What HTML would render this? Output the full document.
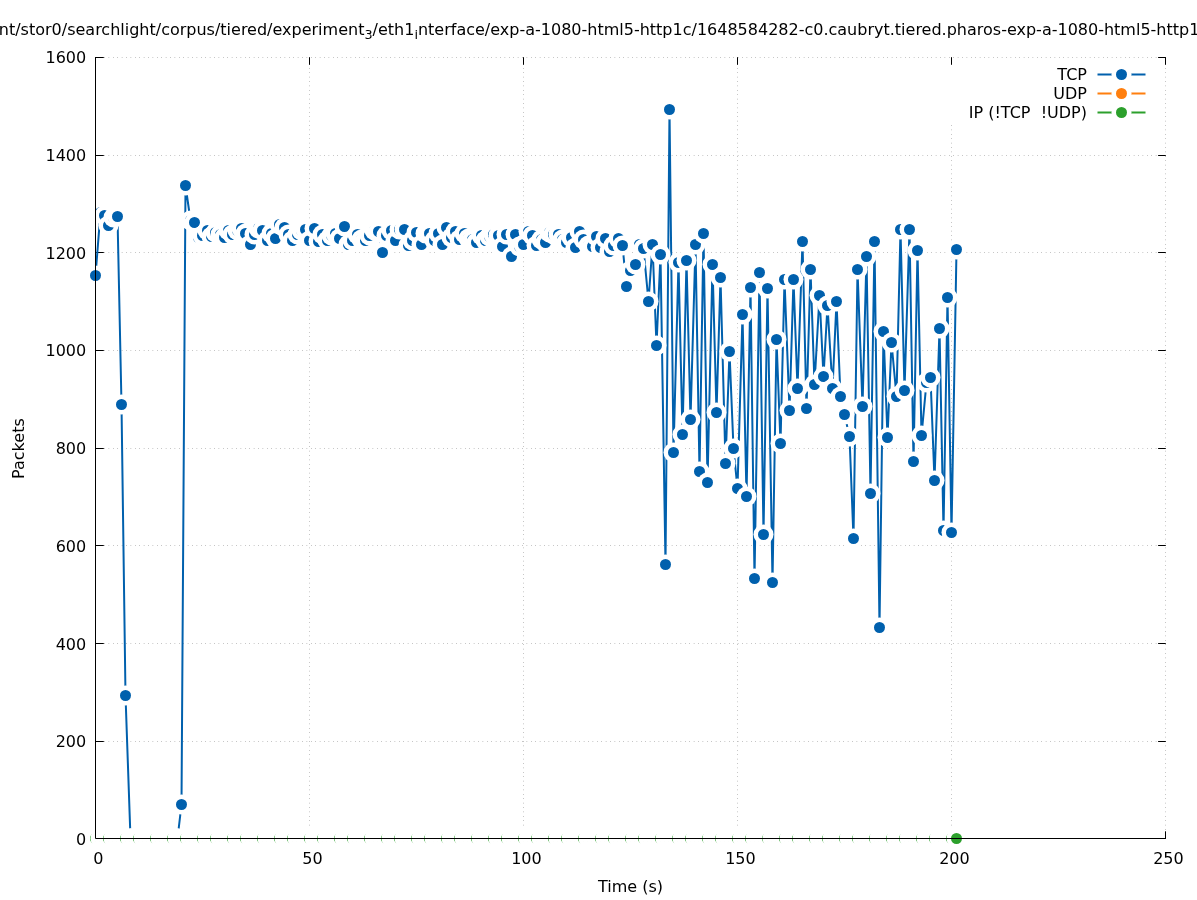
<!DOCTYPE html>
<html lang="en"><head><meta charset="utf-8"><title>Packets over time</title>
<style>html,body{margin:0;padding:0;background:#fff}body{width:1197px;height:900px;overflow:hidden}svg{display:block}</style>
</head><body>
<svg width="1197" height="900" viewBox="0 0 1197 900" font-family="'DejaVu Sans', 'Liberation Sans', sans-serif" font-size="16px" fill="#000">
<rect width="1197" height="900" fill="#fff"/>
<g stroke="#a0a0a0" stroke-width="1" stroke-dasharray="0.6 3.8" fill="none">
<path stroke-dashoffset="0.1" d="M95.5 741.5H1165.5"/>
<path stroke-dashoffset="0.1" d="M95.5 643.5H1165.5"/>
<path stroke-dashoffset="0.1" d="M95.5 545.5H1165.5"/>
<path stroke-dashoffset="0.1" d="M95.5 448.5H1165.5"/>
<path stroke-dashoffset="0.1" d="M95.5 350.5H1165.5"/>
<path stroke-dashoffset="0.1" d="M95.5 252.5H1165.5"/>
<path stroke-dashoffset="0.1" d="M95.5 155.5H1165.5"/>
<path stroke-dashoffset="0.1" d="M95.5 57.5H1165.5"/>
<path stroke-dashoffset="0.1" d="M309.5 838.5V57.5"/>
<path stroke-dashoffset="0.1" d="M523.5 838.5V57.5"/>
<path stroke-dashoffset="0.1" d="M737.5 838.5V57.5"/>
<path stroke-dashoffset="0.1" d="M951.5 838.5V57.5"/>
<path stroke-dashoffset="0.1" d="M1165.5 838.5V57.5"/>
</g>
<rect x="940" y="59" width="220" height="65.5" fill="#fff"/>
<g stroke="#000" stroke-width="1" fill="none">
<path d="M95.5 838.5H103.8"/>
<path d="M1165.8 838.5H1158.1"/>
<path d="M95.5 741.5H103.8"/>
<path d="M1165.8 741.5H1158.1"/>
<path d="M95.5 643.5H103.8"/>
<path d="M1165.8 643.5H1158.1"/>
<path d="M95.5 545.5H103.8"/>
<path d="M1165.8 545.5H1158.1"/>
<path d="M95.5 448.5H103.8"/>
<path d="M1165.8 448.5H1158.1"/>
<path d="M95.5 350.5H103.8"/>
<path d="M1165.8 350.5H1158.1"/>
<path d="M95.5 252.5H103.8"/>
<path d="M1165.8 252.5H1158.1"/>
<path d="M95.5 155.5H103.8"/>
<path d="M1165.8 155.5H1158.1"/>
<path d="M95.5 57.5H103.8"/>
<path d="M1165.8 57.5H1158.1"/>
<path d="M95.5 838.5V831.3"/>
<path d="M95.5 57.2V64.8"/>
<path d="M309.5 838.5V831.3"/>
<path d="M309.5 57.2V64.8"/>
<path d="M523.5 838.5V831.3"/>
<path d="M523.5 57.2V64.8"/>
<path d="M737.5 838.5V831.3"/>
<path d="M737.5 57.2V64.8"/>
<path d="M951.5 838.5V831.3"/>
<path d="M951.5 57.2V64.8"/>
<path d="M1165.5 838.5V831.3"/>
<path d="M1165.5 57.2V64.8"/>
</g>
<g id="tcp">
<polyline fill="none" stroke="#0060ad" stroke-width="2" stroke-linejoin="miter" stroke-linecap="butt" points="95.5,275.5 100.5,212.5 104.5,215.5 108.5,225.5 113.5,217.5 117.5,216.5 121.5,404.5 125.5,695.5 130.5,838.5 134.5,838.5 138.5,838.5 143.5,838.5 147.5,838.5 151.5,838.5 155.5,838.5 160.5,838.5 164.5,838.5 168.5,838.5 172.5,838.5 177.5,838.5 181.5,804.5 185.5,185.5 190.5,220.5 194.5,222.5 198.5,237.5 202.5,235.5 207.5,230.5 211.5,236.5 215.5,232.5 220.5,234.5 224.5,237.5 228.5,230.5 232.5,234.5 237.5,230.5 241.5,228.5 245.5,233.5 250.5,244.5 254.5,234.5 258.5,228.5 262.5,230.5 267.5,240.5 271.5,233.5 275.5,238.5 279.5,224.5 284.5,227.5 288.5,234.5 292.5,240.5 297.5,234.5 301.5,230.5 305.5,229.5 309.5,240.5 314.5,228.5 318.5,241.5 322.5,234.5 327.5,240.5 331.5,235.5 335.5,233.5 339.5,238.5 344.5,226.5 348.5,244.5 352.5,240.5 357.5,234.5 361.5,239.5 365.5,240.5 369.5,235.5 374.5,230.5 378.5,231.5 382.5,252.5 386.5,235.5 391.5,230.5 395.5,240.5 399.5,229.5 404.5,229.5 408.5,245.5 412.5,240.5 416.5,232.5 421.5,244.5 425.5,233.5 429.5,233.5 434.5,240.5 438.5,233.5 442.5,244.5 446.5,227.5 451.5,237.5 455.5,231.5 459.5,239.5 464.5,233.5 468.5,238.5 472.5,239.5 476.5,242.5 481.5,235.5 485.5,240.5 489.5,236.5 493.5,234.5 498.5,235.5 502.5,246.5 506.5,234.5 511.5,256.5 515.5,234.5 519.5,246.5 523.5,244.5 528.5,231.5 532.5,235.5 536.5,245.5 541.5,239.5 545.5,242.5 549.5,232.5 553.5,234.5 558.5,234.5 562.5,239.5 566.5,242.5 571.5,237.5 575.5,247.5 579.5,231.5 583.5,239.5 588.5,245.5 592.5,246.5 596.5,236.5 600.5,247.5 605.5,238.5 609.5,251.5 613.5,245.5 618.5,238.5 622.5,245.5 626.5,286.5 630.5,270.5 635.5,264.5 639.5,244.5 643.5,248.5 648.5,301.5 652.5,244.5 656.5,345.5 660.5,254.5 665.5,564.5 669.5,109.5 673.5,452.5 678.5,262.5 682.5,434.5 686.5,260.5 690.5,419.5 695.5,244.5 699.5,471.5 703.5,233.5 707.5,482.5 712.5,264.5 716.5,412.5 720.5,277.5 725.5,463.5 729.5,351.5 733.5,448.5 737.5,488.5 742.5,314.5 746.5,496.5 750.5,287.5 754.5,578.5 759.5,272.5 763.5,534.5 767.5,288.5 772.5,582.5 776.5,339.5 780.5,443.5 784.5,279.5 789.5,410.5 793.5,279.5 797.5,388.5 802.5,241.5 806.5,408.5 810.5,269.5 814.5,384.5 819.5,295.5 823.5,376.5 827.5,305.5 832.5,388.5 836.5,301.5 840.5,396.5 844.5,414.5 849.5,436.5 853.5,538.5 857.5,269.5 862.5,406.5 866.5,256.5 870.5,493.5 874.5,241.5 879.5,627.5 883.5,331.5 887.5,437.5 891.5,342.5 896.5,396.5 900.5,229.5 904.5,390.5 909.5,229.5 913.5,461.5 917.5,250.5 921.5,435.5 926.5,382.5 930.5,377.5 934.5,480.5 939.5,328.5 943.5,530.5 947.5,297.5 951.5,532.5 956.5,249.5"/>
<circle cx="95.5" cy="275.5" r="10" fill="#fff"/><circle cx="95.5" cy="275.5" r="5.5" fill="#0060ad"/>
<circle cx="100.5" cy="212.5" r="10" fill="#fff"/><circle cx="100.5" cy="212.5" r="5.5" fill="#0060ad"/>
<circle cx="104.5" cy="215.5" r="10" fill="#fff"/><circle cx="104.5" cy="215.5" r="5.5" fill="#0060ad"/>
<circle cx="108.5" cy="225.5" r="10" fill="#fff"/><circle cx="108.5" cy="225.5" r="5.5" fill="#0060ad"/>
<circle cx="113.5" cy="217.5" r="10" fill="#fff"/><circle cx="113.5" cy="217.5" r="5.5" fill="#0060ad"/>
<circle cx="117.5" cy="216.5" r="10" fill="#fff"/><circle cx="117.5" cy="216.5" r="5.5" fill="#0060ad"/>
<circle cx="121.5" cy="404.5" r="10" fill="#fff"/><circle cx="121.5" cy="404.5" r="5.5" fill="#0060ad"/>
<circle cx="125.5" cy="695.5" r="10" fill="#fff"/><circle cx="125.5" cy="695.5" r="5.5" fill="#0060ad"/>
<circle cx="130.5" cy="838.5" r="10" fill="#fff"/><circle cx="130.5" cy="838.5" r="5.5" fill="#0060ad"/>
<circle cx="134.5" cy="838.5" r="10" fill="#fff"/><circle cx="134.5" cy="838.5" r="5.5" fill="#0060ad"/>
<circle cx="138.5" cy="838.5" r="10" fill="#fff"/><circle cx="138.5" cy="838.5" r="5.5" fill="#0060ad"/>
<circle cx="143.5" cy="838.5" r="10" fill="#fff"/><circle cx="143.5" cy="838.5" r="5.5" fill="#0060ad"/>
<circle cx="147.5" cy="838.5" r="10" fill="#fff"/><circle cx="147.5" cy="838.5" r="5.5" fill="#0060ad"/>
<circle cx="151.5" cy="838.5" r="10" fill="#fff"/><circle cx="151.5" cy="838.5" r="5.5" fill="#0060ad"/>
<circle cx="155.5" cy="838.5" r="10" fill="#fff"/><circle cx="155.5" cy="838.5" r="5.5" fill="#0060ad"/>
<circle cx="160.5" cy="838.5" r="10" fill="#fff"/><circle cx="160.5" cy="838.5" r="5.5" fill="#0060ad"/>
<circle cx="164.5" cy="838.5" r="10" fill="#fff"/><circle cx="164.5" cy="838.5" r="5.5" fill="#0060ad"/>
<circle cx="168.5" cy="838.5" r="10" fill="#fff"/><circle cx="168.5" cy="838.5" r="5.5" fill="#0060ad"/>
<circle cx="172.5" cy="838.5" r="10" fill="#fff"/><circle cx="172.5" cy="838.5" r="5.5" fill="#0060ad"/>
<circle cx="177.5" cy="838.5" r="10" fill="#fff"/><circle cx="177.5" cy="838.5" r="5.5" fill="#0060ad"/>
<circle cx="181.5" cy="804.5" r="10" fill="#fff"/><circle cx="181.5" cy="804.5" r="5.5" fill="#0060ad"/>
<circle cx="185.5" cy="185.5" r="10" fill="#fff"/><circle cx="185.5" cy="185.5" r="5.5" fill="#0060ad"/>
<circle cx="190.5" cy="220.5" r="10" fill="#fff"/><circle cx="190.5" cy="220.5" r="5.5" fill="#0060ad"/>
<circle cx="194.5" cy="222.5" r="10" fill="#fff"/><circle cx="194.5" cy="222.5" r="5.5" fill="#0060ad"/>
<circle cx="198.5" cy="237.5" r="10" fill="#fff"/><circle cx="198.5" cy="237.5" r="5.5" fill="#0060ad"/>
<circle cx="202.5" cy="235.5" r="10" fill="#fff"/><circle cx="202.5" cy="235.5" r="5.5" fill="#0060ad"/>
<circle cx="207.5" cy="230.5" r="10" fill="#fff"/><circle cx="207.5" cy="230.5" r="5.5" fill="#0060ad"/>
<circle cx="211.5" cy="236.5" r="10" fill="#fff"/><circle cx="211.5" cy="236.5" r="5.5" fill="#0060ad"/>
<circle cx="215.5" cy="232.5" r="10" fill="#fff"/><circle cx="215.5" cy="232.5" r="5.5" fill="#0060ad"/>
<circle cx="220.5" cy="234.5" r="10" fill="#fff"/><circle cx="220.5" cy="234.5" r="5.5" fill="#0060ad"/>
<circle cx="224.5" cy="237.5" r="10" fill="#fff"/><circle cx="224.5" cy="237.5" r="5.5" fill="#0060ad"/>
<circle cx="228.5" cy="230.5" r="10" fill="#fff"/><circle cx="228.5" cy="230.5" r="5.5" fill="#0060ad"/>
<circle cx="232.5" cy="234.5" r="10" fill="#fff"/><circle cx="232.5" cy="234.5" r="5.5" fill="#0060ad"/>
<circle cx="237.5" cy="230.5" r="10" fill="#fff"/><circle cx="237.5" cy="230.5" r="5.5" fill="#0060ad"/>
<circle cx="241.5" cy="228.5" r="10" fill="#fff"/><circle cx="241.5" cy="228.5" r="5.5" fill="#0060ad"/>
<circle cx="245.5" cy="233.5" r="10" fill="#fff"/><circle cx="245.5" cy="233.5" r="5.5" fill="#0060ad"/>
<circle cx="250.5" cy="244.5" r="10" fill="#fff"/><circle cx="250.5" cy="244.5" r="5.5" fill="#0060ad"/>
<circle cx="254.5" cy="234.5" r="10" fill="#fff"/><circle cx="254.5" cy="234.5" r="5.5" fill="#0060ad"/>
<circle cx="258.5" cy="228.5" r="10" fill="#fff"/><circle cx="258.5" cy="228.5" r="5.5" fill="#0060ad"/>
<circle cx="262.5" cy="230.5" r="10" fill="#fff"/><circle cx="262.5" cy="230.5" r="5.5" fill="#0060ad"/>
<circle cx="267.5" cy="240.5" r="10" fill="#fff"/><circle cx="267.5" cy="240.5" r="5.5" fill="#0060ad"/>
<circle cx="271.5" cy="233.5" r="10" fill="#fff"/><circle cx="271.5" cy="233.5" r="5.5" fill="#0060ad"/>
<circle cx="275.5" cy="238.5" r="10" fill="#fff"/><circle cx="275.5" cy="238.5" r="5.5" fill="#0060ad"/>
<circle cx="279.5" cy="224.5" r="10" fill="#fff"/><circle cx="279.5" cy="224.5" r="5.5" fill="#0060ad"/>
<circle cx="284.5" cy="227.5" r="10" fill="#fff"/><circle cx="284.5" cy="227.5" r="5.5" fill="#0060ad"/>
<circle cx="288.5" cy="234.5" r="10" fill="#fff"/><circle cx="288.5" cy="234.5" r="5.5" fill="#0060ad"/>
<circle cx="292.5" cy="240.5" r="10" fill="#fff"/><circle cx="292.5" cy="240.5" r="5.5" fill="#0060ad"/>
<circle cx="297.5" cy="234.5" r="10" fill="#fff"/><circle cx="297.5" cy="234.5" r="5.5" fill="#0060ad"/>
<circle cx="301.5" cy="230.5" r="10" fill="#fff"/><circle cx="301.5" cy="230.5" r="5.5" fill="#0060ad"/>
<circle cx="305.5" cy="229.5" r="10" fill="#fff"/><circle cx="305.5" cy="229.5" r="5.5" fill="#0060ad"/>
<circle cx="309.5" cy="240.5" r="10" fill="#fff"/><circle cx="309.5" cy="240.5" r="5.5" fill="#0060ad"/>
<circle cx="314.5" cy="228.5" r="10" fill="#fff"/><circle cx="314.5" cy="228.5" r="5.5" fill="#0060ad"/>
<circle cx="318.5" cy="241.5" r="10" fill="#fff"/><circle cx="318.5" cy="241.5" r="5.5" fill="#0060ad"/>
<circle cx="322.5" cy="234.5" r="10" fill="#fff"/><circle cx="322.5" cy="234.5" r="5.5" fill="#0060ad"/>
<circle cx="327.5" cy="240.5" r="10" fill="#fff"/><circle cx="327.5" cy="240.5" r="5.5" fill="#0060ad"/>
<circle cx="331.5" cy="235.5" r="10" fill="#fff"/><circle cx="331.5" cy="235.5" r="5.5" fill="#0060ad"/>
<circle cx="335.5" cy="233.5" r="10" fill="#fff"/><circle cx="335.5" cy="233.5" r="5.5" fill="#0060ad"/>
<circle cx="339.5" cy="238.5" r="10" fill="#fff"/><circle cx="339.5" cy="238.5" r="5.5" fill="#0060ad"/>
<circle cx="344.5" cy="226.5" r="10" fill="#fff"/><circle cx="344.5" cy="226.5" r="5.5" fill="#0060ad"/>
<circle cx="348.5" cy="244.5" r="10" fill="#fff"/><circle cx="348.5" cy="244.5" r="5.5" fill="#0060ad"/>
<circle cx="352.5" cy="240.5" r="10" fill="#fff"/><circle cx="352.5" cy="240.5" r="5.5" fill="#0060ad"/>
<circle cx="357.5" cy="234.5" r="10" fill="#fff"/><circle cx="357.5" cy="234.5" r="5.5" fill="#0060ad"/>
<circle cx="361.5" cy="239.5" r="10" fill="#fff"/><circle cx="361.5" cy="239.5" r="5.5" fill="#0060ad"/>
<circle cx="365.5" cy="240.5" r="10" fill="#fff"/><circle cx="365.5" cy="240.5" r="5.5" fill="#0060ad"/>
<circle cx="369.5" cy="235.5" r="10" fill="#fff"/><circle cx="369.5" cy="235.5" r="5.5" fill="#0060ad"/>
<circle cx="374.5" cy="230.5" r="10" fill="#fff"/><circle cx="374.5" cy="230.5" r="5.5" fill="#0060ad"/>
<circle cx="378.5" cy="231.5" r="10" fill="#fff"/><circle cx="378.5" cy="231.5" r="5.5" fill="#0060ad"/>
<circle cx="382.5" cy="252.5" r="10" fill="#fff"/><circle cx="382.5" cy="252.5" r="5.5" fill="#0060ad"/>
<circle cx="386.5" cy="235.5" r="10" fill="#fff"/><circle cx="386.5" cy="235.5" r="5.5" fill="#0060ad"/>
<circle cx="391.5" cy="230.5" r="10" fill="#fff"/><circle cx="391.5" cy="230.5" r="5.5" fill="#0060ad"/>
<circle cx="395.5" cy="240.5" r="10" fill="#fff"/><circle cx="395.5" cy="240.5" r="5.5" fill="#0060ad"/>
<circle cx="399.5" cy="229.5" r="10" fill="#fff"/><circle cx="399.5" cy="229.5" r="5.5" fill="#0060ad"/>
<circle cx="404.5" cy="229.5" r="10" fill="#fff"/><circle cx="404.5" cy="229.5" r="5.5" fill="#0060ad"/>
<circle cx="408.5" cy="245.5" r="10" fill="#fff"/><circle cx="408.5" cy="245.5" r="5.5" fill="#0060ad"/>
<circle cx="412.5" cy="240.5" r="10" fill="#fff"/><circle cx="412.5" cy="240.5" r="5.5" fill="#0060ad"/>
<circle cx="416.5" cy="232.5" r="10" fill="#fff"/><circle cx="416.5" cy="232.5" r="5.5" fill="#0060ad"/>
<circle cx="421.5" cy="244.5" r="10" fill="#fff"/><circle cx="421.5" cy="244.5" r="5.5" fill="#0060ad"/>
<circle cx="425.5" cy="233.5" r="10" fill="#fff"/><circle cx="425.5" cy="233.5" r="5.5" fill="#0060ad"/>
<circle cx="429.5" cy="233.5" r="10" fill="#fff"/><circle cx="429.5" cy="233.5" r="5.5" fill="#0060ad"/>
<circle cx="434.5" cy="240.5" r="10" fill="#fff"/><circle cx="434.5" cy="240.5" r="5.5" fill="#0060ad"/>
<circle cx="438.5" cy="233.5" r="10" fill="#fff"/><circle cx="438.5" cy="233.5" r="5.5" fill="#0060ad"/>
<circle cx="442.5" cy="244.5" r="10" fill="#fff"/><circle cx="442.5" cy="244.5" r="5.5" fill="#0060ad"/>
<circle cx="446.5" cy="227.5" r="10" fill="#fff"/><circle cx="446.5" cy="227.5" r="5.5" fill="#0060ad"/>
<circle cx="451.5" cy="237.5" r="10" fill="#fff"/><circle cx="451.5" cy="237.5" r="5.5" fill="#0060ad"/>
<circle cx="455.5" cy="231.5" r="10" fill="#fff"/><circle cx="455.5" cy="231.5" r="5.5" fill="#0060ad"/>
<circle cx="459.5" cy="239.5" r="10" fill="#fff"/><circle cx="459.5" cy="239.5" r="5.5" fill="#0060ad"/>
<circle cx="464.5" cy="233.5" r="10" fill="#fff"/><circle cx="464.5" cy="233.5" r="5.5" fill="#0060ad"/>
<circle cx="468.5" cy="238.5" r="10" fill="#fff"/><circle cx="468.5" cy="238.5" r="5.5" fill="#0060ad"/>
<circle cx="472.5" cy="239.5" r="10" fill="#fff"/><circle cx="472.5" cy="239.5" r="5.5" fill="#0060ad"/>
<circle cx="476.5" cy="242.5" r="10" fill="#fff"/><circle cx="476.5" cy="242.5" r="5.5" fill="#0060ad"/>
<circle cx="481.5" cy="235.5" r="10" fill="#fff"/><circle cx="481.5" cy="235.5" r="5.5" fill="#0060ad"/>
<circle cx="485.5" cy="240.5" r="10" fill="#fff"/><circle cx="485.5" cy="240.5" r="5.5" fill="#0060ad"/>
<circle cx="489.5" cy="236.5" r="10" fill="#fff"/><circle cx="489.5" cy="236.5" r="5.5" fill="#0060ad"/>
<circle cx="493.5" cy="234.5" r="10" fill="#fff"/><circle cx="493.5" cy="234.5" r="5.5" fill="#0060ad"/>
<circle cx="498.5" cy="235.5" r="10" fill="#fff"/><circle cx="498.5" cy="235.5" r="5.5" fill="#0060ad"/>
<circle cx="502.5" cy="246.5" r="10" fill="#fff"/><circle cx="502.5" cy="246.5" r="5.5" fill="#0060ad"/>
<circle cx="506.5" cy="234.5" r="10" fill="#fff"/><circle cx="506.5" cy="234.5" r="5.5" fill="#0060ad"/>
<circle cx="511.5" cy="256.5" r="10" fill="#fff"/><circle cx="511.5" cy="256.5" r="5.5" fill="#0060ad"/>
<circle cx="515.5" cy="234.5" r="10" fill="#fff"/><circle cx="515.5" cy="234.5" r="5.5" fill="#0060ad"/>
<circle cx="519.5" cy="246.5" r="10" fill="#fff"/><circle cx="519.5" cy="246.5" r="5.5" fill="#0060ad"/>
<circle cx="523.5" cy="244.5" r="10" fill="#fff"/><circle cx="523.5" cy="244.5" r="5.5" fill="#0060ad"/>
<circle cx="528.5" cy="231.5" r="10" fill="#fff"/><circle cx="528.5" cy="231.5" r="5.5" fill="#0060ad"/>
<circle cx="532.5" cy="235.5" r="10" fill="#fff"/><circle cx="532.5" cy="235.5" r="5.5" fill="#0060ad"/>
<circle cx="536.5" cy="245.5" r="10" fill="#fff"/><circle cx="536.5" cy="245.5" r="5.5" fill="#0060ad"/>
<circle cx="541.5" cy="239.5" r="10" fill="#fff"/><circle cx="541.5" cy="239.5" r="5.5" fill="#0060ad"/>
<circle cx="545.5" cy="242.5" r="10" fill="#fff"/><circle cx="545.5" cy="242.5" r="5.5" fill="#0060ad"/>
<circle cx="549.5" cy="232.5" r="10" fill="#fff"/><circle cx="549.5" cy="232.5" r="5.5" fill="#0060ad"/>
<circle cx="553.5" cy="234.5" r="10" fill="#fff"/><circle cx="553.5" cy="234.5" r="5.5" fill="#0060ad"/>
<circle cx="558.5" cy="234.5" r="10" fill="#fff"/><circle cx="558.5" cy="234.5" r="5.5" fill="#0060ad"/>
<circle cx="562.5" cy="239.5" r="10" fill="#fff"/><circle cx="562.5" cy="239.5" r="5.5" fill="#0060ad"/>
<circle cx="566.5" cy="242.5" r="10" fill="#fff"/><circle cx="566.5" cy="242.5" r="5.5" fill="#0060ad"/>
<circle cx="571.5" cy="237.5" r="10" fill="#fff"/><circle cx="571.5" cy="237.5" r="5.5" fill="#0060ad"/>
<circle cx="575.5" cy="247.5" r="10" fill="#fff"/><circle cx="575.5" cy="247.5" r="5.5" fill="#0060ad"/>
<circle cx="579.5" cy="231.5" r="10" fill="#fff"/><circle cx="579.5" cy="231.5" r="5.5" fill="#0060ad"/>
<circle cx="583.5" cy="239.5" r="10" fill="#fff"/><circle cx="583.5" cy="239.5" r="5.5" fill="#0060ad"/>
<circle cx="588.5" cy="245.5" r="10" fill="#fff"/><circle cx="588.5" cy="245.5" r="5.5" fill="#0060ad"/>
<circle cx="592.5" cy="246.5" r="10" fill="#fff"/><circle cx="592.5" cy="246.5" r="5.5" fill="#0060ad"/>
<circle cx="596.5" cy="236.5" r="10" fill="#fff"/><circle cx="596.5" cy="236.5" r="5.5" fill="#0060ad"/>
<circle cx="600.5" cy="247.5" r="10" fill="#fff"/><circle cx="600.5" cy="247.5" r="5.5" fill="#0060ad"/>
<circle cx="605.5" cy="238.5" r="10" fill="#fff"/><circle cx="605.5" cy="238.5" r="5.5" fill="#0060ad"/>
<circle cx="609.5" cy="251.5" r="10" fill="#fff"/><circle cx="609.5" cy="251.5" r="5.5" fill="#0060ad"/>
<circle cx="613.5" cy="245.5" r="10" fill="#fff"/><circle cx="613.5" cy="245.5" r="5.5" fill="#0060ad"/>
<circle cx="618.5" cy="238.5" r="10" fill="#fff"/><circle cx="618.5" cy="238.5" r="5.5" fill="#0060ad"/>
<circle cx="622.5" cy="245.5" r="10" fill="#fff"/><circle cx="622.5" cy="245.5" r="5.5" fill="#0060ad"/>
<circle cx="626.5" cy="286.5" r="10" fill="#fff"/><circle cx="626.5" cy="286.5" r="5.5" fill="#0060ad"/>
<circle cx="630.5" cy="270.5" r="10" fill="#fff"/><circle cx="630.5" cy="270.5" r="5.5" fill="#0060ad"/>
<circle cx="635.5" cy="264.5" r="10" fill="#fff"/><circle cx="635.5" cy="264.5" r="5.5" fill="#0060ad"/>
<circle cx="639.5" cy="244.5" r="10" fill="#fff"/><circle cx="639.5" cy="244.5" r="5.5" fill="#0060ad"/>
<circle cx="643.5" cy="248.5" r="10" fill="#fff"/><circle cx="643.5" cy="248.5" r="5.5" fill="#0060ad"/>
<circle cx="648.5" cy="301.5" r="10" fill="#fff"/><circle cx="648.5" cy="301.5" r="5.5" fill="#0060ad"/>
<circle cx="652.5" cy="244.5" r="10" fill="#fff"/><circle cx="652.5" cy="244.5" r="5.5" fill="#0060ad"/>
<circle cx="656.5" cy="345.5" r="10" fill="#fff"/><circle cx="656.5" cy="345.5" r="5.5" fill="#0060ad"/>
<circle cx="660.5" cy="254.5" r="10" fill="#fff"/><circle cx="660.5" cy="254.5" r="5.5" fill="#0060ad"/>
<circle cx="665.5" cy="564.5" r="10" fill="#fff"/><circle cx="665.5" cy="564.5" r="5.5" fill="#0060ad"/>
<circle cx="669.5" cy="109.5" r="10" fill="#fff"/><circle cx="669.5" cy="109.5" r="5.5" fill="#0060ad"/>
<circle cx="673.5" cy="452.5" r="10" fill="#fff"/><circle cx="673.5" cy="452.5" r="5.5" fill="#0060ad"/>
<circle cx="678.5" cy="262.5" r="10" fill="#fff"/><circle cx="678.5" cy="262.5" r="5.5" fill="#0060ad"/>
<circle cx="682.5" cy="434.5" r="10" fill="#fff"/><circle cx="682.5" cy="434.5" r="5.5" fill="#0060ad"/>
<circle cx="686.5" cy="260.5" r="10" fill="#fff"/><circle cx="686.5" cy="260.5" r="5.5" fill="#0060ad"/>
<circle cx="690.5" cy="419.5" r="10" fill="#fff"/><circle cx="690.5" cy="419.5" r="5.5" fill="#0060ad"/>
<circle cx="695.5" cy="244.5" r="10" fill="#fff"/><circle cx="695.5" cy="244.5" r="5.5" fill="#0060ad"/>
<circle cx="699.5" cy="471.5" r="10" fill="#fff"/><circle cx="699.5" cy="471.5" r="5.5" fill="#0060ad"/>
<circle cx="703.5" cy="233.5" r="10" fill="#fff"/><circle cx="703.5" cy="233.5" r="5.5" fill="#0060ad"/>
<circle cx="707.5" cy="482.5" r="10" fill="#fff"/><circle cx="707.5" cy="482.5" r="5.5" fill="#0060ad"/>
<circle cx="712.5" cy="264.5" r="10" fill="#fff"/><circle cx="712.5" cy="264.5" r="5.5" fill="#0060ad"/>
<circle cx="716.5" cy="412.5" r="10" fill="#fff"/><circle cx="716.5" cy="412.5" r="5.5" fill="#0060ad"/>
<circle cx="720.5" cy="277.5" r="10" fill="#fff"/><circle cx="720.5" cy="277.5" r="5.5" fill="#0060ad"/>
<circle cx="725.5" cy="463.5" r="10" fill="#fff"/><circle cx="725.5" cy="463.5" r="5.5" fill="#0060ad"/>
<circle cx="729.5" cy="351.5" r="10" fill="#fff"/><circle cx="729.5" cy="351.5" r="5.5" fill="#0060ad"/>
<circle cx="733.5" cy="448.5" r="10" fill="#fff"/><circle cx="733.5" cy="448.5" r="5.5" fill="#0060ad"/>
<circle cx="737.5" cy="488.5" r="10" fill="#fff"/><circle cx="737.5" cy="488.5" r="5.5" fill="#0060ad"/>
<circle cx="742.5" cy="314.5" r="10" fill="#fff"/><circle cx="742.5" cy="314.5" r="5.5" fill="#0060ad"/>
<circle cx="746.5" cy="496.5" r="10" fill="#fff"/><circle cx="746.5" cy="496.5" r="5.5" fill="#0060ad"/>
<circle cx="750.5" cy="287.5" r="10" fill="#fff"/><circle cx="750.5" cy="287.5" r="5.5" fill="#0060ad"/>
<circle cx="754.5" cy="578.5" r="10" fill="#fff"/><circle cx="754.5" cy="578.5" r="5.5" fill="#0060ad"/>
<circle cx="759.5" cy="272.5" r="10" fill="#fff"/><circle cx="759.5" cy="272.5" r="5.5" fill="#0060ad"/>
<circle cx="763.5" cy="534.5" r="10" fill="#fff"/><circle cx="763.5" cy="534.5" r="5.5" fill="#0060ad"/>
<circle cx="767.5" cy="288.5" r="10" fill="#fff"/><circle cx="767.5" cy="288.5" r="5.5" fill="#0060ad"/>
<circle cx="772.5" cy="582.5" r="10" fill="#fff"/><circle cx="772.5" cy="582.5" r="5.5" fill="#0060ad"/>
<circle cx="776.5" cy="339.5" r="10" fill="#fff"/><circle cx="776.5" cy="339.5" r="5.5" fill="#0060ad"/>
<circle cx="780.5" cy="443.5" r="10" fill="#fff"/><circle cx="780.5" cy="443.5" r="5.5" fill="#0060ad"/>
<circle cx="784.5" cy="279.5" r="10" fill="#fff"/><circle cx="784.5" cy="279.5" r="5.5" fill="#0060ad"/>
<circle cx="789.5" cy="410.5" r="10" fill="#fff"/><circle cx="789.5" cy="410.5" r="5.5" fill="#0060ad"/>
<circle cx="793.5" cy="279.5" r="10" fill="#fff"/><circle cx="793.5" cy="279.5" r="5.5" fill="#0060ad"/>
<circle cx="797.5" cy="388.5" r="10" fill="#fff"/><circle cx="797.5" cy="388.5" r="5.5" fill="#0060ad"/>
<circle cx="802.5" cy="241.5" r="10" fill="#fff"/><circle cx="802.5" cy="241.5" r="5.5" fill="#0060ad"/>
<circle cx="806.5" cy="408.5" r="10" fill="#fff"/><circle cx="806.5" cy="408.5" r="5.5" fill="#0060ad"/>
<circle cx="810.5" cy="269.5" r="10" fill="#fff"/><circle cx="810.5" cy="269.5" r="5.5" fill="#0060ad"/>
<circle cx="814.5" cy="384.5" r="10" fill="#fff"/><circle cx="814.5" cy="384.5" r="5.5" fill="#0060ad"/>
<circle cx="819.5" cy="295.5" r="10" fill="#fff"/><circle cx="819.5" cy="295.5" r="5.5" fill="#0060ad"/>
<circle cx="823.5" cy="376.5" r="10" fill="#fff"/><circle cx="823.5" cy="376.5" r="5.5" fill="#0060ad"/>
<circle cx="827.5" cy="305.5" r="10" fill="#fff"/><circle cx="827.5" cy="305.5" r="5.5" fill="#0060ad"/>
<circle cx="832.5" cy="388.5" r="10" fill="#fff"/><circle cx="832.5" cy="388.5" r="5.5" fill="#0060ad"/>
<circle cx="836.5" cy="301.5" r="10" fill="#fff"/><circle cx="836.5" cy="301.5" r="5.5" fill="#0060ad"/>
<circle cx="840.5" cy="396.5" r="10" fill="#fff"/><circle cx="840.5" cy="396.5" r="5.5" fill="#0060ad"/>
<circle cx="844.5" cy="414.5" r="10" fill="#fff"/><circle cx="844.5" cy="414.5" r="5.5" fill="#0060ad"/>
<circle cx="849.5" cy="436.5" r="10" fill="#fff"/><circle cx="849.5" cy="436.5" r="5.5" fill="#0060ad"/>
<circle cx="853.5" cy="538.5" r="10" fill="#fff"/><circle cx="853.5" cy="538.5" r="5.5" fill="#0060ad"/>
<circle cx="857.5" cy="269.5" r="10" fill="#fff"/><circle cx="857.5" cy="269.5" r="5.5" fill="#0060ad"/>
<circle cx="862.5" cy="406.5" r="10" fill="#fff"/><circle cx="862.5" cy="406.5" r="5.5" fill="#0060ad"/>
<circle cx="866.5" cy="256.5" r="10" fill="#fff"/><circle cx="866.5" cy="256.5" r="5.5" fill="#0060ad"/>
<circle cx="870.5" cy="493.5" r="10" fill="#fff"/><circle cx="870.5" cy="493.5" r="5.5" fill="#0060ad"/>
<circle cx="874.5" cy="241.5" r="10" fill="#fff"/><circle cx="874.5" cy="241.5" r="5.5" fill="#0060ad"/>
<circle cx="879.5" cy="627.5" r="10" fill="#fff"/><circle cx="879.5" cy="627.5" r="5.5" fill="#0060ad"/>
<circle cx="883.5" cy="331.5" r="10" fill="#fff"/><circle cx="883.5" cy="331.5" r="5.5" fill="#0060ad"/>
<circle cx="887.5" cy="437.5" r="10" fill="#fff"/><circle cx="887.5" cy="437.5" r="5.5" fill="#0060ad"/>
<circle cx="891.5" cy="342.5" r="10" fill="#fff"/><circle cx="891.5" cy="342.5" r="5.5" fill="#0060ad"/>
<circle cx="896.5" cy="396.5" r="10" fill="#fff"/><circle cx="896.5" cy="396.5" r="5.5" fill="#0060ad"/>
<circle cx="900.5" cy="229.5" r="10" fill="#fff"/><circle cx="900.5" cy="229.5" r="5.5" fill="#0060ad"/>
<circle cx="904.5" cy="390.5" r="10" fill="#fff"/><circle cx="904.5" cy="390.5" r="5.5" fill="#0060ad"/>
<circle cx="909.5" cy="229.5" r="10" fill="#fff"/><circle cx="909.5" cy="229.5" r="5.5" fill="#0060ad"/>
<circle cx="913.5" cy="461.5" r="10" fill="#fff"/><circle cx="913.5" cy="461.5" r="5.5" fill="#0060ad"/>
<circle cx="917.5" cy="250.5" r="10" fill="#fff"/><circle cx="917.5" cy="250.5" r="5.5" fill="#0060ad"/>
<circle cx="921.5" cy="435.5" r="10" fill="#fff"/><circle cx="921.5" cy="435.5" r="5.5" fill="#0060ad"/>
<circle cx="926.5" cy="382.5" r="10" fill="#fff"/><circle cx="926.5" cy="382.5" r="5.5" fill="#0060ad"/>
<circle cx="930.5" cy="377.5" r="10" fill="#fff"/><circle cx="930.5" cy="377.5" r="5.5" fill="#0060ad"/>
<circle cx="934.5" cy="480.5" r="10" fill="#fff"/><circle cx="934.5" cy="480.5" r="5.5" fill="#0060ad"/>
<circle cx="939.5" cy="328.5" r="10" fill="#fff"/><circle cx="939.5" cy="328.5" r="5.5" fill="#0060ad"/>
<circle cx="943.5" cy="530.5" r="10" fill="#fff"/><circle cx="943.5" cy="530.5" r="5.5" fill="#0060ad"/>
<circle cx="947.5" cy="297.5" r="10" fill="#fff"/><circle cx="947.5" cy="297.5" r="5.5" fill="#0060ad"/>
<circle cx="951.5" cy="532.5" r="10" fill="#fff"/><circle cx="951.5" cy="532.5" r="5.5" fill="#0060ad"/>
<circle cx="956.5" cy="249.5" r="10" fill="#fff"/><circle cx="956.5" cy="249.5" r="5.5" fill="#0060ad"/>
</g>
<g id="udp">
<path d="M95.5 838.5H956.5" stroke="#ff7f0e" stroke-width="2" fill="none"/>
<circle cx="95.5" cy="838.5" r="10" fill="#fff"/><circle cx="95.5" cy="838.5" r="5.5" fill="#ff7f0e"/>
<circle cx="100.5" cy="838.5" r="10" fill="#fff"/><circle cx="100.5" cy="838.5" r="5.5" fill="#ff7f0e"/>
<circle cx="104.5" cy="838.5" r="10" fill="#fff"/><circle cx="104.5" cy="838.5" r="5.5" fill="#ff7f0e"/>
<circle cx="108.5" cy="838.5" r="10" fill="#fff"/><circle cx="108.5" cy="838.5" r="5.5" fill="#ff7f0e"/>
<circle cx="113.5" cy="838.5" r="10" fill="#fff"/><circle cx="113.5" cy="838.5" r="5.5" fill="#ff7f0e"/>
<circle cx="117.5" cy="838.5" r="10" fill="#fff"/><circle cx="117.5" cy="838.5" r="5.5" fill="#ff7f0e"/>
<circle cx="121.5" cy="838.5" r="10" fill="#fff"/><circle cx="121.5" cy="838.5" r="5.5" fill="#ff7f0e"/>
<circle cx="125.5" cy="838.5" r="10" fill="#fff"/><circle cx="125.5" cy="838.5" r="5.5" fill="#ff7f0e"/>
<circle cx="130.5" cy="838.5" r="10" fill="#fff"/><circle cx="130.5" cy="838.5" r="5.5" fill="#ff7f0e"/>
<circle cx="134.5" cy="838.5" r="10" fill="#fff"/><circle cx="134.5" cy="838.5" r="5.5" fill="#ff7f0e"/>
<circle cx="138.5" cy="838.5" r="10" fill="#fff"/><circle cx="138.5" cy="838.5" r="5.5" fill="#ff7f0e"/>
<circle cx="143.5" cy="838.5" r="10" fill="#fff"/><circle cx="143.5" cy="838.5" r="5.5" fill="#ff7f0e"/>
<circle cx="147.5" cy="838.5" r="10" fill="#fff"/><circle cx="147.5" cy="838.5" r="5.5" fill="#ff7f0e"/>
<circle cx="151.5" cy="838.5" r="10" fill="#fff"/><circle cx="151.5" cy="838.5" r="5.5" fill="#ff7f0e"/>
<circle cx="155.5" cy="838.5" r="10" fill="#fff"/><circle cx="155.5" cy="838.5" r="5.5" fill="#ff7f0e"/>
<circle cx="160.5" cy="838.5" r="10" fill="#fff"/><circle cx="160.5" cy="838.5" r="5.5" fill="#ff7f0e"/>
<circle cx="164.5" cy="838.5" r="10" fill="#fff"/><circle cx="164.5" cy="838.5" r="5.5" fill="#ff7f0e"/>
<circle cx="168.5" cy="838.5" r="10" fill="#fff"/><circle cx="168.5" cy="838.5" r="5.5" fill="#ff7f0e"/>
<circle cx="172.5" cy="838.5" r="10" fill="#fff"/><circle cx="172.5" cy="838.5" r="5.5" fill="#ff7f0e"/>
<circle cx="177.5" cy="838.5" r="10" fill="#fff"/><circle cx="177.5" cy="838.5" r="5.5" fill="#ff7f0e"/>
<circle cx="181.5" cy="838.5" r="10" fill="#fff"/><circle cx="181.5" cy="838.5" r="5.5" fill="#ff7f0e"/>
<circle cx="185.5" cy="838.5" r="10" fill="#fff"/><circle cx="185.5" cy="838.5" r="5.5" fill="#ff7f0e"/>
<circle cx="190.5" cy="838.5" r="10" fill="#fff"/><circle cx="190.5" cy="838.5" r="5.5" fill="#ff7f0e"/>
<circle cx="194.5" cy="838.5" r="10" fill="#fff"/><circle cx="194.5" cy="838.5" r="5.5" fill="#ff7f0e"/>
<circle cx="198.5" cy="838.5" r="10" fill="#fff"/><circle cx="198.5" cy="838.5" r="5.5" fill="#ff7f0e"/>
<circle cx="202.5" cy="838.5" r="10" fill="#fff"/><circle cx="202.5" cy="838.5" r="5.5" fill="#ff7f0e"/>
<circle cx="207.5" cy="838.5" r="10" fill="#fff"/><circle cx="207.5" cy="838.5" r="5.5" fill="#ff7f0e"/>
<circle cx="211.5" cy="838.5" r="10" fill="#fff"/><circle cx="211.5" cy="838.5" r="5.5" fill="#ff7f0e"/>
<circle cx="215.5" cy="838.5" r="10" fill="#fff"/><circle cx="215.5" cy="838.5" r="5.5" fill="#ff7f0e"/>
<circle cx="220.5" cy="838.5" r="10" fill="#fff"/><circle cx="220.5" cy="838.5" r="5.5" fill="#ff7f0e"/>
<circle cx="224.5" cy="838.5" r="10" fill="#fff"/><circle cx="224.5" cy="838.5" r="5.5" fill="#ff7f0e"/>
<circle cx="228.5" cy="838.5" r="10" fill="#fff"/><circle cx="228.5" cy="838.5" r="5.5" fill="#ff7f0e"/>
<circle cx="232.5" cy="838.5" r="10" fill="#fff"/><circle cx="232.5" cy="838.5" r="5.5" fill="#ff7f0e"/>
<circle cx="237.5" cy="838.5" r="10" fill="#fff"/><circle cx="237.5" cy="838.5" r="5.5" fill="#ff7f0e"/>
<circle cx="241.5" cy="838.5" r="10" fill="#fff"/><circle cx="241.5" cy="838.5" r="5.5" fill="#ff7f0e"/>
<circle cx="245.5" cy="838.5" r="10" fill="#fff"/><circle cx="245.5" cy="838.5" r="5.5" fill="#ff7f0e"/>
<circle cx="250.5" cy="838.5" r="10" fill="#fff"/><circle cx="250.5" cy="838.5" r="5.5" fill="#ff7f0e"/>
<circle cx="254.5" cy="838.5" r="10" fill="#fff"/><circle cx="254.5" cy="838.5" r="5.5" fill="#ff7f0e"/>
<circle cx="258.5" cy="838.5" r="10" fill="#fff"/><circle cx="258.5" cy="838.5" r="5.5" fill="#ff7f0e"/>
<circle cx="262.5" cy="838.5" r="10" fill="#fff"/><circle cx="262.5" cy="838.5" r="5.5" fill="#ff7f0e"/>
<circle cx="267.5" cy="838.5" r="10" fill="#fff"/><circle cx="267.5" cy="838.5" r="5.5" fill="#ff7f0e"/>
<circle cx="271.5" cy="838.5" r="10" fill="#fff"/><circle cx="271.5" cy="838.5" r="5.5" fill="#ff7f0e"/>
<circle cx="275.5" cy="838.5" r="10" fill="#fff"/><circle cx="275.5" cy="838.5" r="5.5" fill="#ff7f0e"/>
<circle cx="279.5" cy="838.5" r="10" fill="#fff"/><circle cx="279.5" cy="838.5" r="5.5" fill="#ff7f0e"/>
<circle cx="284.5" cy="838.5" r="10" fill="#fff"/><circle cx="284.5" cy="838.5" r="5.5" fill="#ff7f0e"/>
<circle cx="288.5" cy="838.5" r="10" fill="#fff"/><circle cx="288.5" cy="838.5" r="5.5" fill="#ff7f0e"/>
<circle cx="292.5" cy="838.5" r="10" fill="#fff"/><circle cx="292.5" cy="838.5" r="5.5" fill="#ff7f0e"/>
<circle cx="297.5" cy="838.5" r="10" fill="#fff"/><circle cx="297.5" cy="838.5" r="5.5" fill="#ff7f0e"/>
<circle cx="301.5" cy="838.5" r="10" fill="#fff"/><circle cx="301.5" cy="838.5" r="5.5" fill="#ff7f0e"/>
<circle cx="305.5" cy="838.5" r="10" fill="#fff"/><circle cx="305.5" cy="838.5" r="5.5" fill="#ff7f0e"/>
<circle cx="309.5" cy="838.5" r="10" fill="#fff"/><circle cx="309.5" cy="838.5" r="5.5" fill="#ff7f0e"/>
<circle cx="314.5" cy="838.5" r="10" fill="#fff"/><circle cx="314.5" cy="838.5" r="5.5" fill="#ff7f0e"/>
<circle cx="318.5" cy="838.5" r="10" fill="#fff"/><circle cx="318.5" cy="838.5" r="5.5" fill="#ff7f0e"/>
<circle cx="322.5" cy="838.5" r="10" fill="#fff"/><circle cx="322.5" cy="838.5" r="5.5" fill="#ff7f0e"/>
<circle cx="327.5" cy="838.5" r="10" fill="#fff"/><circle cx="327.5" cy="838.5" r="5.5" fill="#ff7f0e"/>
<circle cx="331.5" cy="838.5" r="10" fill="#fff"/><circle cx="331.5" cy="838.5" r="5.5" fill="#ff7f0e"/>
<circle cx="335.5" cy="838.5" r="10" fill="#fff"/><circle cx="335.5" cy="838.5" r="5.5" fill="#ff7f0e"/>
<circle cx="339.5" cy="838.5" r="10" fill="#fff"/><circle cx="339.5" cy="838.5" r="5.5" fill="#ff7f0e"/>
<circle cx="344.5" cy="838.5" r="10" fill="#fff"/><circle cx="344.5" cy="838.5" r="5.5" fill="#ff7f0e"/>
<circle cx="348.5" cy="838.5" r="10" fill="#fff"/><circle cx="348.5" cy="838.5" r="5.5" fill="#ff7f0e"/>
<circle cx="352.5" cy="838.5" r="10" fill="#fff"/><circle cx="352.5" cy="838.5" r="5.5" fill="#ff7f0e"/>
<circle cx="357.5" cy="838.5" r="10" fill="#fff"/><circle cx="357.5" cy="838.5" r="5.5" fill="#ff7f0e"/>
<circle cx="361.5" cy="838.5" r="10" fill="#fff"/><circle cx="361.5" cy="838.5" r="5.5" fill="#ff7f0e"/>
<circle cx="365.5" cy="838.5" r="10" fill="#fff"/><circle cx="365.5" cy="838.5" r="5.5" fill="#ff7f0e"/>
<circle cx="369.5" cy="838.5" r="10" fill="#fff"/><circle cx="369.5" cy="838.5" r="5.5" fill="#ff7f0e"/>
<circle cx="374.5" cy="838.5" r="10" fill="#fff"/><circle cx="374.5" cy="838.5" r="5.5" fill="#ff7f0e"/>
<circle cx="378.5" cy="838.5" r="10" fill="#fff"/><circle cx="378.5" cy="838.5" r="5.5" fill="#ff7f0e"/>
<circle cx="382.5" cy="838.5" r="10" fill="#fff"/><circle cx="382.5" cy="838.5" r="5.5" fill="#ff7f0e"/>
<circle cx="386.5" cy="838.5" r="10" fill="#fff"/><circle cx="386.5" cy="838.5" r="5.5" fill="#ff7f0e"/>
<circle cx="391.5" cy="838.5" r="10" fill="#fff"/><circle cx="391.5" cy="838.5" r="5.5" fill="#ff7f0e"/>
<circle cx="395.5" cy="838.5" r="10" fill="#fff"/><circle cx="395.5" cy="838.5" r="5.5" fill="#ff7f0e"/>
<circle cx="399.5" cy="838.5" r="10" fill="#fff"/><circle cx="399.5" cy="838.5" r="5.5" fill="#ff7f0e"/>
<circle cx="404.5" cy="838.5" r="10" fill="#fff"/><circle cx="404.5" cy="838.5" r="5.5" fill="#ff7f0e"/>
<circle cx="408.5" cy="838.5" r="10" fill="#fff"/><circle cx="408.5" cy="838.5" r="5.5" fill="#ff7f0e"/>
<circle cx="412.5" cy="838.5" r="10" fill="#fff"/><circle cx="412.5" cy="838.5" r="5.5" fill="#ff7f0e"/>
<circle cx="416.5" cy="838.5" r="10" fill="#fff"/><circle cx="416.5" cy="838.5" r="5.5" fill="#ff7f0e"/>
<circle cx="421.5" cy="838.5" r="10" fill="#fff"/><circle cx="421.5" cy="838.5" r="5.5" fill="#ff7f0e"/>
<circle cx="425.5" cy="838.5" r="10" fill="#fff"/><circle cx="425.5" cy="838.5" r="5.5" fill="#ff7f0e"/>
<circle cx="429.5" cy="838.5" r="10" fill="#fff"/><circle cx="429.5" cy="838.5" r="5.5" fill="#ff7f0e"/>
<circle cx="434.5" cy="838.5" r="10" fill="#fff"/><circle cx="434.5" cy="838.5" r="5.5" fill="#ff7f0e"/>
<circle cx="438.5" cy="838.5" r="10" fill="#fff"/><circle cx="438.5" cy="838.5" r="5.5" fill="#ff7f0e"/>
<circle cx="442.5" cy="838.5" r="10" fill="#fff"/><circle cx="442.5" cy="838.5" r="5.5" fill="#ff7f0e"/>
<circle cx="446.5" cy="838.5" r="10" fill="#fff"/><circle cx="446.5" cy="838.5" r="5.5" fill="#ff7f0e"/>
<circle cx="451.5" cy="838.5" r="10" fill="#fff"/><circle cx="451.5" cy="838.5" r="5.5" fill="#ff7f0e"/>
<circle cx="455.5" cy="838.5" r="10" fill="#fff"/><circle cx="455.5" cy="838.5" r="5.5" fill="#ff7f0e"/>
<circle cx="459.5" cy="838.5" r="10" fill="#fff"/><circle cx="459.5" cy="838.5" r="5.5" fill="#ff7f0e"/>
<circle cx="464.5" cy="838.5" r="10" fill="#fff"/><circle cx="464.5" cy="838.5" r="5.5" fill="#ff7f0e"/>
<circle cx="468.5" cy="838.5" r="10" fill="#fff"/><circle cx="468.5" cy="838.5" r="5.5" fill="#ff7f0e"/>
<circle cx="472.5" cy="838.5" r="10" fill="#fff"/><circle cx="472.5" cy="838.5" r="5.5" fill="#ff7f0e"/>
<circle cx="476.5" cy="838.5" r="10" fill="#fff"/><circle cx="476.5" cy="838.5" r="5.5" fill="#ff7f0e"/>
<circle cx="481.5" cy="838.5" r="10" fill="#fff"/><circle cx="481.5" cy="838.5" r="5.5" fill="#ff7f0e"/>
<circle cx="485.5" cy="838.5" r="10" fill="#fff"/><circle cx="485.5" cy="838.5" r="5.5" fill="#ff7f0e"/>
<circle cx="489.5" cy="838.5" r="10" fill="#fff"/><circle cx="489.5" cy="838.5" r="5.5" fill="#ff7f0e"/>
<circle cx="493.5" cy="838.5" r="10" fill="#fff"/><circle cx="493.5" cy="838.5" r="5.5" fill="#ff7f0e"/>
<circle cx="498.5" cy="838.5" r="10" fill="#fff"/><circle cx="498.5" cy="838.5" r="5.5" fill="#ff7f0e"/>
<circle cx="502.5" cy="838.5" r="10" fill="#fff"/><circle cx="502.5" cy="838.5" r="5.5" fill="#ff7f0e"/>
<circle cx="506.5" cy="838.5" r="10" fill="#fff"/><circle cx="506.5" cy="838.5" r="5.5" fill="#ff7f0e"/>
<circle cx="511.5" cy="838.5" r="10" fill="#fff"/><circle cx="511.5" cy="838.5" r="5.5" fill="#ff7f0e"/>
<circle cx="515.5" cy="838.5" r="10" fill="#fff"/><circle cx="515.5" cy="838.5" r="5.5" fill="#ff7f0e"/>
<circle cx="519.5" cy="838.5" r="10" fill="#fff"/><circle cx="519.5" cy="838.5" r="5.5" fill="#ff7f0e"/>
<circle cx="523.5" cy="838.5" r="10" fill="#fff"/><circle cx="523.5" cy="838.5" r="5.5" fill="#ff7f0e"/>
<circle cx="528.5" cy="838.5" r="10" fill="#fff"/><circle cx="528.5" cy="838.5" r="5.5" fill="#ff7f0e"/>
<circle cx="532.5" cy="838.5" r="10" fill="#fff"/><circle cx="532.5" cy="838.5" r="5.5" fill="#ff7f0e"/>
<circle cx="536.5" cy="838.5" r="10" fill="#fff"/><circle cx="536.5" cy="838.5" r="5.5" fill="#ff7f0e"/>
<circle cx="541.5" cy="838.5" r="10" fill="#fff"/><circle cx="541.5" cy="838.5" r="5.5" fill="#ff7f0e"/>
<circle cx="545.5" cy="838.5" r="10" fill="#fff"/><circle cx="545.5" cy="838.5" r="5.5" fill="#ff7f0e"/>
<circle cx="549.5" cy="838.5" r="10" fill="#fff"/><circle cx="549.5" cy="838.5" r="5.5" fill="#ff7f0e"/>
<circle cx="553.5" cy="838.5" r="10" fill="#fff"/><circle cx="553.5" cy="838.5" r="5.5" fill="#ff7f0e"/>
<circle cx="558.5" cy="838.5" r="10" fill="#fff"/><circle cx="558.5" cy="838.5" r="5.5" fill="#ff7f0e"/>
<circle cx="562.5" cy="838.5" r="10" fill="#fff"/><circle cx="562.5" cy="838.5" r="5.5" fill="#ff7f0e"/>
<circle cx="566.5" cy="838.5" r="10" fill="#fff"/><circle cx="566.5" cy="838.5" r="5.5" fill="#ff7f0e"/>
<circle cx="571.5" cy="838.5" r="10" fill="#fff"/><circle cx="571.5" cy="838.5" r="5.5" fill="#ff7f0e"/>
<circle cx="575.5" cy="838.5" r="10" fill="#fff"/><circle cx="575.5" cy="838.5" r="5.5" fill="#ff7f0e"/>
<circle cx="579.5" cy="838.5" r="10" fill="#fff"/><circle cx="579.5" cy="838.5" r="5.5" fill="#ff7f0e"/>
<circle cx="583.5" cy="838.5" r="10" fill="#fff"/><circle cx="583.5" cy="838.5" r="5.5" fill="#ff7f0e"/>
<circle cx="588.5" cy="838.5" r="10" fill="#fff"/><circle cx="588.5" cy="838.5" r="5.5" fill="#ff7f0e"/>
<circle cx="592.5" cy="838.5" r="10" fill="#fff"/><circle cx="592.5" cy="838.5" r="5.5" fill="#ff7f0e"/>
<circle cx="596.5" cy="838.5" r="10" fill="#fff"/><circle cx="596.5" cy="838.5" r="5.5" fill="#ff7f0e"/>
<circle cx="600.5" cy="838.5" r="10" fill="#fff"/><circle cx="600.5" cy="838.5" r="5.5" fill="#ff7f0e"/>
<circle cx="605.5" cy="838.5" r="10" fill="#fff"/><circle cx="605.5" cy="838.5" r="5.5" fill="#ff7f0e"/>
<circle cx="609.5" cy="838.5" r="10" fill="#fff"/><circle cx="609.5" cy="838.5" r="5.5" fill="#ff7f0e"/>
<circle cx="613.5" cy="838.5" r="10" fill="#fff"/><circle cx="613.5" cy="838.5" r="5.5" fill="#ff7f0e"/>
<circle cx="618.5" cy="838.5" r="10" fill="#fff"/><circle cx="618.5" cy="838.5" r="5.5" fill="#ff7f0e"/>
<circle cx="622.5" cy="838.5" r="10" fill="#fff"/><circle cx="622.5" cy="838.5" r="5.5" fill="#ff7f0e"/>
<circle cx="626.5" cy="838.5" r="10" fill="#fff"/><circle cx="626.5" cy="838.5" r="5.5" fill="#ff7f0e"/>
<circle cx="630.5" cy="838.5" r="10" fill="#fff"/><circle cx="630.5" cy="838.5" r="5.5" fill="#ff7f0e"/>
<circle cx="635.5" cy="838.5" r="10" fill="#fff"/><circle cx="635.5" cy="838.5" r="5.5" fill="#ff7f0e"/>
<circle cx="639.5" cy="838.5" r="10" fill="#fff"/><circle cx="639.5" cy="838.5" r="5.5" fill="#ff7f0e"/>
<circle cx="643.5" cy="838.5" r="10" fill="#fff"/><circle cx="643.5" cy="838.5" r="5.5" fill="#ff7f0e"/>
<circle cx="648.5" cy="838.5" r="10" fill="#fff"/><circle cx="648.5" cy="838.5" r="5.5" fill="#ff7f0e"/>
<circle cx="652.5" cy="838.5" r="10" fill="#fff"/><circle cx="652.5" cy="838.5" r="5.5" fill="#ff7f0e"/>
<circle cx="656.5" cy="838.5" r="10" fill="#fff"/><circle cx="656.5" cy="838.5" r="5.5" fill="#ff7f0e"/>
<circle cx="660.5" cy="838.5" r="10" fill="#fff"/><circle cx="660.5" cy="838.5" r="5.5" fill="#ff7f0e"/>
<circle cx="665.5" cy="838.5" r="10" fill="#fff"/><circle cx="665.5" cy="838.5" r="5.5" fill="#ff7f0e"/>
<circle cx="669.5" cy="838.5" r="10" fill="#fff"/><circle cx="669.5" cy="838.5" r="5.5" fill="#ff7f0e"/>
<circle cx="673.5" cy="838.5" r="10" fill="#fff"/><circle cx="673.5" cy="838.5" r="5.5" fill="#ff7f0e"/>
<circle cx="677.5" cy="838.5" r="10" fill="#fff"/><circle cx="677.5" cy="838.5" r="5.5" fill="#ff7f0e"/>
<circle cx="682.5" cy="838.5" r="10" fill="#fff"/><circle cx="682.5" cy="838.5" r="5.5" fill="#ff7f0e"/>
<circle cx="686.5" cy="838.5" r="10" fill="#fff"/><circle cx="686.5" cy="838.5" r="5.5" fill="#ff7f0e"/>
<circle cx="690.5" cy="838.5" r="10" fill="#fff"/><circle cx="690.5" cy="838.5" r="5.5" fill="#ff7f0e"/>
<circle cx="695.5" cy="838.5" r="10" fill="#fff"/><circle cx="695.5" cy="838.5" r="5.5" fill="#ff7f0e"/>
<circle cx="699.5" cy="838.5" r="10" fill="#fff"/><circle cx="699.5" cy="838.5" r="5.5" fill="#ff7f0e"/>
<circle cx="703.5" cy="838.5" r="10" fill="#fff"/><circle cx="703.5" cy="838.5" r="5.5" fill="#ff7f0e"/>
<circle cx="707.5" cy="838.5" r="10" fill="#fff"/><circle cx="707.5" cy="838.5" r="5.5" fill="#ff7f0e"/>
<circle cx="712.5" cy="838.5" r="10" fill="#fff"/><circle cx="712.5" cy="838.5" r="5.5" fill="#ff7f0e"/>
<circle cx="716.5" cy="838.5" r="10" fill="#fff"/><circle cx="716.5" cy="838.5" r="5.5" fill="#ff7f0e"/>
<circle cx="720.5" cy="838.5" r="10" fill="#fff"/><circle cx="720.5" cy="838.5" r="5.5" fill="#ff7f0e"/>
<circle cx="725.5" cy="838.5" r="10" fill="#fff"/><circle cx="725.5" cy="838.5" r="5.5" fill="#ff7f0e"/>
<circle cx="729.5" cy="838.5" r="10" fill="#fff"/><circle cx="729.5" cy="838.5" r="5.5" fill="#ff7f0e"/>
<circle cx="733.5" cy="838.5" r="10" fill="#fff"/><circle cx="733.5" cy="838.5" r="5.5" fill="#ff7f0e"/>
<circle cx="737.5" cy="838.5" r="10" fill="#fff"/><circle cx="737.5" cy="838.5" r="5.5" fill="#ff7f0e"/>
<circle cx="742.5" cy="838.5" r="10" fill="#fff"/><circle cx="742.5" cy="838.5" r="5.5" fill="#ff7f0e"/>
<circle cx="746.5" cy="838.5" r="10" fill="#fff"/><circle cx="746.5" cy="838.5" r="5.5" fill="#ff7f0e"/>
<circle cx="750.5" cy="838.5" r="10" fill="#fff"/><circle cx="750.5" cy="838.5" r="5.5" fill="#ff7f0e"/>
<circle cx="755.5" cy="838.5" r="10" fill="#fff"/><circle cx="755.5" cy="838.5" r="5.5" fill="#ff7f0e"/>
<circle cx="759.5" cy="838.5" r="10" fill="#fff"/><circle cx="759.5" cy="838.5" r="5.5" fill="#ff7f0e"/>
<circle cx="763.5" cy="838.5" r="10" fill="#fff"/><circle cx="763.5" cy="838.5" r="5.5" fill="#ff7f0e"/>
<circle cx="767.5" cy="838.5" r="10" fill="#fff"/><circle cx="767.5" cy="838.5" r="5.5" fill="#ff7f0e"/>
<circle cx="772.5" cy="838.5" r="10" fill="#fff"/><circle cx="772.5" cy="838.5" r="5.5" fill="#ff7f0e"/>
<circle cx="776.5" cy="838.5" r="10" fill="#fff"/><circle cx="776.5" cy="838.5" r="5.5" fill="#ff7f0e"/>
<circle cx="780.5" cy="838.5" r="10" fill="#fff"/><circle cx="780.5" cy="838.5" r="5.5" fill="#ff7f0e"/>
<circle cx="784.5" cy="838.5" r="10" fill="#fff"/><circle cx="784.5" cy="838.5" r="5.5" fill="#ff7f0e"/>
<circle cx="789.5" cy="838.5" r="10" fill="#fff"/><circle cx="789.5" cy="838.5" r="5.5" fill="#ff7f0e"/>
<circle cx="793.5" cy="838.5" r="10" fill="#fff"/><circle cx="793.5" cy="838.5" r="5.5" fill="#ff7f0e"/>
<circle cx="797.5" cy="838.5" r="10" fill="#fff"/><circle cx="797.5" cy="838.5" r="5.5" fill="#ff7f0e"/>
<circle cx="802.5" cy="838.5" r="10" fill="#fff"/><circle cx="802.5" cy="838.5" r="5.5" fill="#ff7f0e"/>
<circle cx="806.5" cy="838.5" r="10" fill="#fff"/><circle cx="806.5" cy="838.5" r="5.5" fill="#ff7f0e"/>
<circle cx="810.5" cy="838.5" r="10" fill="#fff"/><circle cx="810.5" cy="838.5" r="5.5" fill="#ff7f0e"/>
<circle cx="814.5" cy="838.5" r="10" fill="#fff"/><circle cx="814.5" cy="838.5" r="5.5" fill="#ff7f0e"/>
<circle cx="819.5" cy="838.5" r="10" fill="#fff"/><circle cx="819.5" cy="838.5" r="5.5" fill="#ff7f0e"/>
<circle cx="823.5" cy="838.5" r="10" fill="#fff"/><circle cx="823.5" cy="838.5" r="5.5" fill="#ff7f0e"/>
<circle cx="827.5" cy="838.5" r="10" fill="#fff"/><circle cx="827.5" cy="838.5" r="5.5" fill="#ff7f0e"/>
<circle cx="832.5" cy="838.5" r="10" fill="#fff"/><circle cx="832.5" cy="838.5" r="5.5" fill="#ff7f0e"/>
<circle cx="836.5" cy="838.5" r="10" fill="#fff"/><circle cx="836.5" cy="838.5" r="5.5" fill="#ff7f0e"/>
<circle cx="840.5" cy="838.5" r="10" fill="#fff"/><circle cx="840.5" cy="838.5" r="5.5" fill="#ff7f0e"/>
<circle cx="844.5" cy="838.5" r="10" fill="#fff"/><circle cx="844.5" cy="838.5" r="5.5" fill="#ff7f0e"/>
<circle cx="849.5" cy="838.5" r="10" fill="#fff"/><circle cx="849.5" cy="838.5" r="5.5" fill="#ff7f0e"/>
<circle cx="853.5" cy="838.5" r="10" fill="#fff"/><circle cx="853.5" cy="838.5" r="5.5" fill="#ff7f0e"/>
<circle cx="857.5" cy="838.5" r="10" fill="#fff"/><circle cx="857.5" cy="838.5" r="5.5" fill="#ff7f0e"/>
<circle cx="862.5" cy="838.5" r="10" fill="#fff"/><circle cx="862.5" cy="838.5" r="5.5" fill="#ff7f0e"/>
<circle cx="866.5" cy="838.5" r="10" fill="#fff"/><circle cx="866.5" cy="838.5" r="5.5" fill="#ff7f0e"/>
<circle cx="870.5" cy="838.5" r="10" fill="#fff"/><circle cx="870.5" cy="838.5" r="5.5" fill="#ff7f0e"/>
<circle cx="874.5" cy="838.5" r="10" fill="#fff"/><circle cx="874.5" cy="838.5" r="5.5" fill="#ff7f0e"/>
<circle cx="879.5" cy="838.5" r="10" fill="#fff"/><circle cx="879.5" cy="838.5" r="5.5" fill="#ff7f0e"/>
<circle cx="883.5" cy="838.5" r="10" fill="#fff"/><circle cx="883.5" cy="838.5" r="5.5" fill="#ff7f0e"/>
<circle cx="887.5" cy="838.5" r="10" fill="#fff"/><circle cx="887.5" cy="838.5" r="5.5" fill="#ff7f0e"/>
<circle cx="891.5" cy="838.5" r="10" fill="#fff"/><circle cx="891.5" cy="838.5" r="5.5" fill="#ff7f0e"/>
<circle cx="896.5" cy="838.5" r="10" fill="#fff"/><circle cx="896.5" cy="838.5" r="5.5" fill="#ff7f0e"/>
<circle cx="900.5" cy="838.5" r="10" fill="#fff"/><circle cx="900.5" cy="838.5" r="5.5" fill="#ff7f0e"/>
<circle cx="904.5" cy="838.5" r="10" fill="#fff"/><circle cx="904.5" cy="838.5" r="5.5" fill="#ff7f0e"/>
<circle cx="909.5" cy="838.5" r="10" fill="#fff"/><circle cx="909.5" cy="838.5" r="5.5" fill="#ff7f0e"/>
<circle cx="913.5" cy="838.5" r="10" fill="#fff"/><circle cx="913.5" cy="838.5" r="5.5" fill="#ff7f0e"/>
<circle cx="917.5" cy="838.5" r="10" fill="#fff"/><circle cx="917.5" cy="838.5" r="5.5" fill="#ff7f0e"/>
<circle cx="921.5" cy="838.5" r="10" fill="#fff"/><circle cx="921.5" cy="838.5" r="5.5" fill="#ff7f0e"/>
<circle cx="926.5" cy="838.5" r="10" fill="#fff"/><circle cx="926.5" cy="838.5" r="5.5" fill="#ff7f0e"/>
<circle cx="930.5" cy="838.5" r="10" fill="#fff"/><circle cx="930.5" cy="838.5" r="5.5" fill="#ff7f0e"/>
<circle cx="934.5" cy="838.5" r="10" fill="#fff"/><circle cx="934.5" cy="838.5" r="5.5" fill="#ff7f0e"/>
<circle cx="939.5" cy="838.5" r="10" fill="#fff"/><circle cx="939.5" cy="838.5" r="5.5" fill="#ff7f0e"/>
<circle cx="943.5" cy="838.5" r="10" fill="#fff"/><circle cx="943.5" cy="838.5" r="5.5" fill="#ff7f0e"/>
<circle cx="947.5" cy="838.5" r="10" fill="#fff"/><circle cx="947.5" cy="838.5" r="5.5" fill="#ff7f0e"/>
<circle cx="951.5" cy="838.5" r="10" fill="#fff"/><circle cx="951.5" cy="838.5" r="5.5" fill="#ff7f0e"/>
<circle cx="956.5" cy="838.5" r="10" fill="#fff"/><circle cx="956.5" cy="838.5" r="5.5" fill="#ff7f0e"/>
</g>
<g id="ip">
<path d="M95.5 838.5H956.5" stroke="#2ca02c" stroke-width="2" fill="none"/>
<circle cx="95.5" cy="838.5" r="10" fill="#fff"/><circle cx="95.5" cy="838.5" r="5.5" fill="#2ca02c"/>
<circle cx="100.5" cy="838.5" r="10" fill="#fff"/><circle cx="100.5" cy="838.5" r="5.5" fill="#2ca02c"/>
<circle cx="104.5" cy="838.5" r="10" fill="#fff"/><circle cx="104.5" cy="838.5" r="5.5" fill="#2ca02c"/>
<circle cx="108.5" cy="838.5" r="10" fill="#fff"/><circle cx="108.5" cy="838.5" r="5.5" fill="#2ca02c"/>
<circle cx="113.5" cy="838.5" r="10" fill="#fff"/><circle cx="113.5" cy="838.5" r="5.5" fill="#2ca02c"/>
<circle cx="117.5" cy="838.5" r="10" fill="#fff"/><circle cx="117.5" cy="838.5" r="5.5" fill="#2ca02c"/>
<circle cx="121.5" cy="838.5" r="10" fill="#fff"/><circle cx="121.5" cy="838.5" r="5.5" fill="#2ca02c"/>
<circle cx="125.5" cy="838.5" r="10" fill="#fff"/><circle cx="125.5" cy="838.5" r="5.5" fill="#2ca02c"/>
<circle cx="130.5" cy="838.5" r="10" fill="#fff"/><circle cx="130.5" cy="838.5" r="5.5" fill="#2ca02c"/>
<circle cx="134.5" cy="838.5" r="10" fill="#fff"/><circle cx="134.5" cy="838.5" r="5.5" fill="#2ca02c"/>
<circle cx="138.5" cy="838.5" r="10" fill="#fff"/><circle cx="138.5" cy="838.5" r="5.5" fill="#2ca02c"/>
<circle cx="143.5" cy="838.5" r="10" fill="#fff"/><circle cx="143.5" cy="838.5" r="5.5" fill="#2ca02c"/>
<circle cx="147.5" cy="838.5" r="10" fill="#fff"/><circle cx="147.5" cy="838.5" r="5.5" fill="#2ca02c"/>
<circle cx="151.5" cy="838.5" r="10" fill="#fff"/><circle cx="151.5" cy="838.5" r="5.5" fill="#2ca02c"/>
<circle cx="155.5" cy="838.5" r="10" fill="#fff"/><circle cx="155.5" cy="838.5" r="5.5" fill="#2ca02c"/>
<circle cx="160.5" cy="838.5" r="10" fill="#fff"/><circle cx="160.5" cy="838.5" r="5.5" fill="#2ca02c"/>
<circle cx="164.5" cy="838.5" r="10" fill="#fff"/><circle cx="164.5" cy="838.5" r="5.5" fill="#2ca02c"/>
<circle cx="168.5" cy="838.5" r="10" fill="#fff"/><circle cx="168.5" cy="838.5" r="5.5" fill="#2ca02c"/>
<circle cx="172.5" cy="838.5" r="10" fill="#fff"/><circle cx="172.5" cy="838.5" r="5.5" fill="#2ca02c"/>
<circle cx="177.5" cy="838.5" r="10" fill="#fff"/><circle cx="177.5" cy="838.5" r="5.5" fill="#2ca02c"/>
<circle cx="181.5" cy="838.5" r="10" fill="#fff"/><circle cx="181.5" cy="838.5" r="5.5" fill="#2ca02c"/>
<circle cx="185.5" cy="838.5" r="10" fill="#fff"/><circle cx="185.5" cy="838.5" r="5.5" fill="#2ca02c"/>
<circle cx="190.5" cy="838.5" r="10" fill="#fff"/><circle cx="190.5" cy="838.5" r="5.5" fill="#2ca02c"/>
<circle cx="194.5" cy="838.5" r="10" fill="#fff"/><circle cx="194.5" cy="838.5" r="5.5" fill="#2ca02c"/>
<circle cx="198.5" cy="838.5" r="10" fill="#fff"/><circle cx="198.5" cy="838.5" r="5.5" fill="#2ca02c"/>
<circle cx="202.5" cy="838.5" r="10" fill="#fff"/><circle cx="202.5" cy="838.5" r="5.5" fill="#2ca02c"/>
<circle cx="207.5" cy="838.5" r="10" fill="#fff"/><circle cx="207.5" cy="838.5" r="5.5" fill="#2ca02c"/>
<circle cx="211.5" cy="838.5" r="10" fill="#fff"/><circle cx="211.5" cy="838.5" r="5.5" fill="#2ca02c"/>
<circle cx="215.5" cy="838.5" r="10" fill="#fff"/><circle cx="215.5" cy="838.5" r="5.5" fill="#2ca02c"/>
<circle cx="220.5" cy="838.5" r="10" fill="#fff"/><circle cx="220.5" cy="838.5" r="5.5" fill="#2ca02c"/>
<circle cx="224.5" cy="838.5" r="10" fill="#fff"/><circle cx="224.5" cy="838.5" r="5.5" fill="#2ca02c"/>
<circle cx="228.5" cy="838.5" r="10" fill="#fff"/><circle cx="228.5" cy="838.5" r="5.5" fill="#2ca02c"/>
<circle cx="232.5" cy="838.5" r="10" fill="#fff"/><circle cx="232.5" cy="838.5" r="5.5" fill="#2ca02c"/>
<circle cx="237.5" cy="838.5" r="10" fill="#fff"/><circle cx="237.5" cy="838.5" r="5.5" fill="#2ca02c"/>
<circle cx="241.5" cy="838.5" r="10" fill="#fff"/><circle cx="241.5" cy="838.5" r="5.5" fill="#2ca02c"/>
<circle cx="245.5" cy="838.5" r="10" fill="#fff"/><circle cx="245.5" cy="838.5" r="5.5" fill="#2ca02c"/>
<circle cx="250.5" cy="838.5" r="10" fill="#fff"/><circle cx="250.5" cy="838.5" r="5.5" fill="#2ca02c"/>
<circle cx="254.5" cy="838.5" r="10" fill="#fff"/><circle cx="254.5" cy="838.5" r="5.5" fill="#2ca02c"/>
<circle cx="258.5" cy="838.5" r="10" fill="#fff"/><circle cx="258.5" cy="838.5" r="5.5" fill="#2ca02c"/>
<circle cx="262.5" cy="838.5" r="10" fill="#fff"/><circle cx="262.5" cy="838.5" r="5.5" fill="#2ca02c"/>
<circle cx="267.5" cy="838.5" r="10" fill="#fff"/><circle cx="267.5" cy="838.5" r="5.5" fill="#2ca02c"/>
<circle cx="271.5" cy="838.5" r="10" fill="#fff"/><circle cx="271.5" cy="838.5" r="5.5" fill="#2ca02c"/>
<circle cx="275.5" cy="838.5" r="10" fill="#fff"/><circle cx="275.5" cy="838.5" r="5.5" fill="#2ca02c"/>
<circle cx="279.5" cy="838.5" r="10" fill="#fff"/><circle cx="279.5" cy="838.5" r="5.5" fill="#2ca02c"/>
<circle cx="284.5" cy="838.5" r="10" fill="#fff"/><circle cx="284.5" cy="838.5" r="5.5" fill="#2ca02c"/>
<circle cx="288.5" cy="838.5" r="10" fill="#fff"/><circle cx="288.5" cy="838.5" r="5.5" fill="#2ca02c"/>
<circle cx="292.5" cy="838.5" r="10" fill="#fff"/><circle cx="292.5" cy="838.5" r="5.5" fill="#2ca02c"/>
<circle cx="297.5" cy="838.5" r="10" fill="#fff"/><circle cx="297.5" cy="838.5" r="5.5" fill="#2ca02c"/>
<circle cx="301.5" cy="838.5" r="10" fill="#fff"/><circle cx="301.5" cy="838.5" r="5.5" fill="#2ca02c"/>
<circle cx="305.5" cy="838.5" r="10" fill="#fff"/><circle cx="305.5" cy="838.5" r="5.5" fill="#2ca02c"/>
<circle cx="309.5" cy="838.5" r="10" fill="#fff"/><circle cx="309.5" cy="838.5" r="5.5" fill="#2ca02c"/>
<circle cx="314.5" cy="838.5" r="10" fill="#fff"/><circle cx="314.5" cy="838.5" r="5.5" fill="#2ca02c"/>
<circle cx="318.5" cy="838.5" r="10" fill="#fff"/><circle cx="318.5" cy="838.5" r="5.5" fill="#2ca02c"/>
<circle cx="322.5" cy="838.5" r="10" fill="#fff"/><circle cx="322.5" cy="838.5" r="5.5" fill="#2ca02c"/>
<circle cx="327.5" cy="838.5" r="10" fill="#fff"/><circle cx="327.5" cy="838.5" r="5.5" fill="#2ca02c"/>
<circle cx="331.5" cy="838.5" r="10" fill="#fff"/><circle cx="331.5" cy="838.5" r="5.5" fill="#2ca02c"/>
<circle cx="335.5" cy="838.5" r="10" fill="#fff"/><circle cx="335.5" cy="838.5" r="5.5" fill="#2ca02c"/>
<circle cx="339.5" cy="838.5" r="10" fill="#fff"/><circle cx="339.5" cy="838.5" r="5.5" fill="#2ca02c"/>
<circle cx="344.5" cy="838.5" r="10" fill="#fff"/><circle cx="344.5" cy="838.5" r="5.5" fill="#2ca02c"/>
<circle cx="348.5" cy="838.5" r="10" fill="#fff"/><circle cx="348.5" cy="838.5" r="5.5" fill="#2ca02c"/>
<circle cx="352.5" cy="838.5" r="10" fill="#fff"/><circle cx="352.5" cy="838.5" r="5.5" fill="#2ca02c"/>
<circle cx="357.5" cy="838.5" r="10" fill="#fff"/><circle cx="357.5" cy="838.5" r="5.5" fill="#2ca02c"/>
<circle cx="361.5" cy="838.5" r="10" fill="#fff"/><circle cx="361.5" cy="838.5" r="5.5" fill="#2ca02c"/>
<circle cx="365.5" cy="838.5" r="10" fill="#fff"/><circle cx="365.5" cy="838.5" r="5.5" fill="#2ca02c"/>
<circle cx="369.5" cy="838.5" r="10" fill="#fff"/><circle cx="369.5" cy="838.5" r="5.5" fill="#2ca02c"/>
<circle cx="374.5" cy="838.5" r="10" fill="#fff"/><circle cx="374.5" cy="838.5" r="5.5" fill="#2ca02c"/>
<circle cx="378.5" cy="838.5" r="10" fill="#fff"/><circle cx="378.5" cy="838.5" r="5.5" fill="#2ca02c"/>
<circle cx="382.5" cy="838.5" r="10" fill="#fff"/><circle cx="382.5" cy="838.5" r="5.5" fill="#2ca02c"/>
<circle cx="386.5" cy="838.5" r="10" fill="#fff"/><circle cx="386.5" cy="838.5" r="5.5" fill="#2ca02c"/>
<circle cx="391.5" cy="838.5" r="10" fill="#fff"/><circle cx="391.5" cy="838.5" r="5.5" fill="#2ca02c"/>
<circle cx="395.5" cy="838.5" r="10" fill="#fff"/><circle cx="395.5" cy="838.5" r="5.5" fill="#2ca02c"/>
<circle cx="399.5" cy="838.5" r="10" fill="#fff"/><circle cx="399.5" cy="838.5" r="5.5" fill="#2ca02c"/>
<circle cx="404.5" cy="838.5" r="10" fill="#fff"/><circle cx="404.5" cy="838.5" r="5.5" fill="#2ca02c"/>
<circle cx="408.5" cy="838.5" r="10" fill="#fff"/><circle cx="408.5" cy="838.5" r="5.5" fill="#2ca02c"/>
<circle cx="412.5" cy="838.5" r="10" fill="#fff"/><circle cx="412.5" cy="838.5" r="5.5" fill="#2ca02c"/>
<circle cx="416.5" cy="838.5" r="10" fill="#fff"/><circle cx="416.5" cy="838.5" r="5.5" fill="#2ca02c"/>
<circle cx="421.5" cy="838.5" r="10" fill="#fff"/><circle cx="421.5" cy="838.5" r="5.5" fill="#2ca02c"/>
<circle cx="425.5" cy="838.5" r="10" fill="#fff"/><circle cx="425.5" cy="838.5" r="5.5" fill="#2ca02c"/>
<circle cx="429.5" cy="838.5" r="10" fill="#fff"/><circle cx="429.5" cy="838.5" r="5.5" fill="#2ca02c"/>
<circle cx="434.5" cy="838.5" r="10" fill="#fff"/><circle cx="434.5" cy="838.5" r="5.5" fill="#2ca02c"/>
<circle cx="438.5" cy="838.5" r="10" fill="#fff"/><circle cx="438.5" cy="838.5" r="5.5" fill="#2ca02c"/>
<circle cx="442.5" cy="838.5" r="10" fill="#fff"/><circle cx="442.5" cy="838.5" r="5.5" fill="#2ca02c"/>
<circle cx="446.5" cy="838.5" r="10" fill="#fff"/><circle cx="446.5" cy="838.5" r="5.5" fill="#2ca02c"/>
<circle cx="451.5" cy="838.5" r="10" fill="#fff"/><circle cx="451.5" cy="838.5" r="5.5" fill="#2ca02c"/>
<circle cx="455.5" cy="838.5" r="10" fill="#fff"/><circle cx="455.5" cy="838.5" r="5.5" fill="#2ca02c"/>
<circle cx="459.5" cy="838.5" r="10" fill="#fff"/><circle cx="459.5" cy="838.5" r="5.5" fill="#2ca02c"/>
<circle cx="464.5" cy="838.5" r="10" fill="#fff"/><circle cx="464.5" cy="838.5" r="5.5" fill="#2ca02c"/>
<circle cx="468.5" cy="838.5" r="10" fill="#fff"/><circle cx="468.5" cy="838.5" r="5.5" fill="#2ca02c"/>
<circle cx="472.5" cy="838.5" r="10" fill="#fff"/><circle cx="472.5" cy="838.5" r="5.5" fill="#2ca02c"/>
<circle cx="476.5" cy="838.5" r="10" fill="#fff"/><circle cx="476.5" cy="838.5" r="5.5" fill="#2ca02c"/>
<circle cx="481.5" cy="838.5" r="10" fill="#fff"/><circle cx="481.5" cy="838.5" r="5.5" fill="#2ca02c"/>
<circle cx="485.5" cy="838.5" r="10" fill="#fff"/><circle cx="485.5" cy="838.5" r="5.5" fill="#2ca02c"/>
<circle cx="489.5" cy="838.5" r="10" fill="#fff"/><circle cx="489.5" cy="838.5" r="5.5" fill="#2ca02c"/>
<circle cx="493.5" cy="838.5" r="10" fill="#fff"/><circle cx="493.5" cy="838.5" r="5.5" fill="#2ca02c"/>
<circle cx="498.5" cy="838.5" r="10" fill="#fff"/><circle cx="498.5" cy="838.5" r="5.5" fill="#2ca02c"/>
<circle cx="502.5" cy="838.5" r="10" fill="#fff"/><circle cx="502.5" cy="838.5" r="5.5" fill="#2ca02c"/>
<circle cx="506.5" cy="838.5" r="10" fill="#fff"/><circle cx="506.5" cy="838.5" r="5.5" fill="#2ca02c"/>
<circle cx="511.5" cy="838.5" r="10" fill="#fff"/><circle cx="511.5" cy="838.5" r="5.5" fill="#2ca02c"/>
<circle cx="515.5" cy="838.5" r="10" fill="#fff"/><circle cx="515.5" cy="838.5" r="5.5" fill="#2ca02c"/>
<circle cx="519.5" cy="838.5" r="10" fill="#fff"/><circle cx="519.5" cy="838.5" r="5.5" fill="#2ca02c"/>
<circle cx="523.5" cy="838.5" r="10" fill="#fff"/><circle cx="523.5" cy="838.5" r="5.5" fill="#2ca02c"/>
<circle cx="528.5" cy="838.5" r="10" fill="#fff"/><circle cx="528.5" cy="838.5" r="5.5" fill="#2ca02c"/>
<circle cx="532.5" cy="838.5" r="10" fill="#fff"/><circle cx="532.5" cy="838.5" r="5.5" fill="#2ca02c"/>
<circle cx="536.5" cy="838.5" r="10" fill="#fff"/><circle cx="536.5" cy="838.5" r="5.5" fill="#2ca02c"/>
<circle cx="541.5" cy="838.5" r="10" fill="#fff"/><circle cx="541.5" cy="838.5" r="5.5" fill="#2ca02c"/>
<circle cx="545.5" cy="838.5" r="10" fill="#fff"/><circle cx="545.5" cy="838.5" r="5.5" fill="#2ca02c"/>
<circle cx="549.5" cy="838.5" r="10" fill="#fff"/><circle cx="549.5" cy="838.5" r="5.5" fill="#2ca02c"/>
<circle cx="553.5" cy="838.5" r="10" fill="#fff"/><circle cx="553.5" cy="838.5" r="5.5" fill="#2ca02c"/>
<circle cx="558.5" cy="838.5" r="10" fill="#fff"/><circle cx="558.5" cy="838.5" r="5.5" fill="#2ca02c"/>
<circle cx="562.5" cy="838.5" r="10" fill="#fff"/><circle cx="562.5" cy="838.5" r="5.5" fill="#2ca02c"/>
<circle cx="566.5" cy="838.5" r="10" fill="#fff"/><circle cx="566.5" cy="838.5" r="5.5" fill="#2ca02c"/>
<circle cx="571.5" cy="838.5" r="10" fill="#fff"/><circle cx="571.5" cy="838.5" r="5.5" fill="#2ca02c"/>
<circle cx="575.5" cy="838.5" r="10" fill="#fff"/><circle cx="575.5" cy="838.5" r="5.5" fill="#2ca02c"/>
<circle cx="579.5" cy="838.5" r="10" fill="#fff"/><circle cx="579.5" cy="838.5" r="5.5" fill="#2ca02c"/>
<circle cx="583.5" cy="838.5" r="10" fill="#fff"/><circle cx="583.5" cy="838.5" r="5.5" fill="#2ca02c"/>
<circle cx="588.5" cy="838.5" r="10" fill="#fff"/><circle cx="588.5" cy="838.5" r="5.5" fill="#2ca02c"/>
<circle cx="592.5" cy="838.5" r="10" fill="#fff"/><circle cx="592.5" cy="838.5" r="5.5" fill="#2ca02c"/>
<circle cx="596.5" cy="838.5" r="10" fill="#fff"/><circle cx="596.5" cy="838.5" r="5.5" fill="#2ca02c"/>
<circle cx="600.5" cy="838.5" r="10" fill="#fff"/><circle cx="600.5" cy="838.5" r="5.5" fill="#2ca02c"/>
<circle cx="605.5" cy="838.5" r="10" fill="#fff"/><circle cx="605.5" cy="838.5" r="5.5" fill="#2ca02c"/>
<circle cx="609.5" cy="838.5" r="10" fill="#fff"/><circle cx="609.5" cy="838.5" r="5.5" fill="#2ca02c"/>
<circle cx="613.5" cy="838.5" r="10" fill="#fff"/><circle cx="613.5" cy="838.5" r="5.5" fill="#2ca02c"/>
<circle cx="618.5" cy="838.5" r="10" fill="#fff"/><circle cx="618.5" cy="838.5" r="5.5" fill="#2ca02c"/>
<circle cx="622.5" cy="838.5" r="10" fill="#fff"/><circle cx="622.5" cy="838.5" r="5.5" fill="#2ca02c"/>
<circle cx="626.5" cy="838.5" r="10" fill="#fff"/><circle cx="626.5" cy="838.5" r="5.5" fill="#2ca02c"/>
<circle cx="630.5" cy="838.5" r="10" fill="#fff"/><circle cx="630.5" cy="838.5" r="5.5" fill="#2ca02c"/>
<circle cx="635.5" cy="838.5" r="10" fill="#fff"/><circle cx="635.5" cy="838.5" r="5.5" fill="#2ca02c"/>
<circle cx="639.5" cy="838.5" r="10" fill="#fff"/><circle cx="639.5" cy="838.5" r="5.5" fill="#2ca02c"/>
<circle cx="643.5" cy="838.5" r="10" fill="#fff"/><circle cx="643.5" cy="838.5" r="5.5" fill="#2ca02c"/>
<circle cx="648.5" cy="838.5" r="10" fill="#fff"/><circle cx="648.5" cy="838.5" r="5.5" fill="#2ca02c"/>
<circle cx="652.5" cy="838.5" r="10" fill="#fff"/><circle cx="652.5" cy="838.5" r="5.5" fill="#2ca02c"/>
<circle cx="656.5" cy="838.5" r="10" fill="#fff"/><circle cx="656.5" cy="838.5" r="5.5" fill="#2ca02c"/>
<circle cx="660.5" cy="838.5" r="10" fill="#fff"/><circle cx="660.5" cy="838.5" r="5.5" fill="#2ca02c"/>
<circle cx="665.5" cy="838.5" r="10" fill="#fff"/><circle cx="665.5" cy="838.5" r="5.5" fill="#2ca02c"/>
<circle cx="669.5" cy="838.5" r="10" fill="#fff"/><circle cx="669.5" cy="838.5" r="5.5" fill="#2ca02c"/>
<circle cx="673.5" cy="838.5" r="10" fill="#fff"/><circle cx="673.5" cy="838.5" r="5.5" fill="#2ca02c"/>
<circle cx="677.5" cy="838.5" r="10" fill="#fff"/><circle cx="677.5" cy="838.5" r="5.5" fill="#2ca02c"/>
<circle cx="682.5" cy="838.5" r="10" fill="#fff"/><circle cx="682.5" cy="838.5" r="5.5" fill="#2ca02c"/>
<circle cx="686.5" cy="838.5" r="10" fill="#fff"/><circle cx="686.5" cy="838.5" r="5.5" fill="#2ca02c"/>
<circle cx="690.5" cy="838.5" r="10" fill="#fff"/><circle cx="690.5" cy="838.5" r="5.5" fill="#2ca02c"/>
<circle cx="695.5" cy="838.5" r="10" fill="#fff"/><circle cx="695.5" cy="838.5" r="5.5" fill="#2ca02c"/>
<circle cx="699.5" cy="838.5" r="10" fill="#fff"/><circle cx="699.5" cy="838.5" r="5.5" fill="#2ca02c"/>
<circle cx="703.5" cy="838.5" r="10" fill="#fff"/><circle cx="703.5" cy="838.5" r="5.5" fill="#2ca02c"/>
<circle cx="707.5" cy="838.5" r="10" fill="#fff"/><circle cx="707.5" cy="838.5" r="5.5" fill="#2ca02c"/>
<circle cx="712.5" cy="838.5" r="10" fill="#fff"/><circle cx="712.5" cy="838.5" r="5.5" fill="#2ca02c"/>
<circle cx="716.5" cy="838.5" r="10" fill="#fff"/><circle cx="716.5" cy="838.5" r="5.5" fill="#2ca02c"/>
<circle cx="720.5" cy="838.5" r="10" fill="#fff"/><circle cx="720.5" cy="838.5" r="5.5" fill="#2ca02c"/>
<circle cx="725.5" cy="838.5" r="10" fill="#fff"/><circle cx="725.5" cy="838.5" r="5.5" fill="#2ca02c"/>
<circle cx="729.5" cy="838.5" r="10" fill="#fff"/><circle cx="729.5" cy="838.5" r="5.5" fill="#2ca02c"/>
<circle cx="733.5" cy="838.5" r="10" fill="#fff"/><circle cx="733.5" cy="838.5" r="5.5" fill="#2ca02c"/>
<circle cx="737.5" cy="838.5" r="10" fill="#fff"/><circle cx="737.5" cy="838.5" r="5.5" fill="#2ca02c"/>
<circle cx="742.5" cy="838.5" r="10" fill="#fff"/><circle cx="742.5" cy="838.5" r="5.5" fill="#2ca02c"/>
<circle cx="746.5" cy="838.5" r="10" fill="#fff"/><circle cx="746.5" cy="838.5" r="5.5" fill="#2ca02c"/>
<circle cx="750.5" cy="838.5" r="10" fill="#fff"/><circle cx="750.5" cy="838.5" r="5.5" fill="#2ca02c"/>
<circle cx="755.5" cy="838.5" r="10" fill="#fff"/><circle cx="755.5" cy="838.5" r="5.5" fill="#2ca02c"/>
<circle cx="759.5" cy="838.5" r="10" fill="#fff"/><circle cx="759.5" cy="838.5" r="5.5" fill="#2ca02c"/>
<circle cx="763.5" cy="838.5" r="10" fill="#fff"/><circle cx="763.5" cy="838.5" r="5.5" fill="#2ca02c"/>
<circle cx="767.5" cy="838.5" r="10" fill="#fff"/><circle cx="767.5" cy="838.5" r="5.5" fill="#2ca02c"/>
<circle cx="772.5" cy="838.5" r="10" fill="#fff"/><circle cx="772.5" cy="838.5" r="5.5" fill="#2ca02c"/>
<circle cx="776.5" cy="838.5" r="10" fill="#fff"/><circle cx="776.5" cy="838.5" r="5.5" fill="#2ca02c"/>
<circle cx="780.5" cy="838.5" r="10" fill="#fff"/><circle cx="780.5" cy="838.5" r="5.5" fill="#2ca02c"/>
<circle cx="784.5" cy="838.5" r="10" fill="#fff"/><circle cx="784.5" cy="838.5" r="5.5" fill="#2ca02c"/>
<circle cx="789.5" cy="838.5" r="10" fill="#fff"/><circle cx="789.5" cy="838.5" r="5.5" fill="#2ca02c"/>
<circle cx="793.5" cy="838.5" r="10" fill="#fff"/><circle cx="793.5" cy="838.5" r="5.5" fill="#2ca02c"/>
<circle cx="797.5" cy="838.5" r="10" fill="#fff"/><circle cx="797.5" cy="838.5" r="5.5" fill="#2ca02c"/>
<circle cx="802.5" cy="838.5" r="10" fill="#fff"/><circle cx="802.5" cy="838.5" r="5.5" fill="#2ca02c"/>
<circle cx="806.5" cy="838.5" r="10" fill="#fff"/><circle cx="806.5" cy="838.5" r="5.5" fill="#2ca02c"/>
<circle cx="810.5" cy="838.5" r="10" fill="#fff"/><circle cx="810.5" cy="838.5" r="5.5" fill="#2ca02c"/>
<circle cx="814.5" cy="838.5" r="10" fill="#fff"/><circle cx="814.5" cy="838.5" r="5.5" fill="#2ca02c"/>
<circle cx="819.5" cy="838.5" r="10" fill="#fff"/><circle cx="819.5" cy="838.5" r="5.5" fill="#2ca02c"/>
<circle cx="823.5" cy="838.5" r="10" fill="#fff"/><circle cx="823.5" cy="838.5" r="5.5" fill="#2ca02c"/>
<circle cx="827.5" cy="838.5" r="10" fill="#fff"/><circle cx="827.5" cy="838.5" r="5.5" fill="#2ca02c"/>
<circle cx="832.5" cy="838.5" r="10" fill="#fff"/><circle cx="832.5" cy="838.5" r="5.5" fill="#2ca02c"/>
<circle cx="836.5" cy="838.5" r="10" fill="#fff"/><circle cx="836.5" cy="838.5" r="5.5" fill="#2ca02c"/>
<circle cx="840.5" cy="838.5" r="10" fill="#fff"/><circle cx="840.5" cy="838.5" r="5.5" fill="#2ca02c"/>
<circle cx="844.5" cy="838.5" r="10" fill="#fff"/><circle cx="844.5" cy="838.5" r="5.5" fill="#2ca02c"/>
<circle cx="849.5" cy="838.5" r="10" fill="#fff"/><circle cx="849.5" cy="838.5" r="5.5" fill="#2ca02c"/>
<circle cx="853.5" cy="838.5" r="10" fill="#fff"/><circle cx="853.5" cy="838.5" r="5.5" fill="#2ca02c"/>
<circle cx="857.5" cy="838.5" r="10" fill="#fff"/><circle cx="857.5" cy="838.5" r="5.5" fill="#2ca02c"/>
<circle cx="862.5" cy="838.5" r="10" fill="#fff"/><circle cx="862.5" cy="838.5" r="5.5" fill="#2ca02c"/>
<circle cx="866.5" cy="838.5" r="10" fill="#fff"/><circle cx="866.5" cy="838.5" r="5.5" fill="#2ca02c"/>
<circle cx="870.5" cy="838.5" r="10" fill="#fff"/><circle cx="870.5" cy="838.5" r="5.5" fill="#2ca02c"/>
<circle cx="874.5" cy="838.5" r="10" fill="#fff"/><circle cx="874.5" cy="838.5" r="5.5" fill="#2ca02c"/>
<circle cx="879.5" cy="838.5" r="10" fill="#fff"/><circle cx="879.5" cy="838.5" r="5.5" fill="#2ca02c"/>
<circle cx="883.5" cy="838.5" r="10" fill="#fff"/><circle cx="883.5" cy="838.5" r="5.5" fill="#2ca02c"/>
<circle cx="887.5" cy="838.5" r="10" fill="#fff"/><circle cx="887.5" cy="838.5" r="5.5" fill="#2ca02c"/>
<circle cx="891.5" cy="838.5" r="10" fill="#fff"/><circle cx="891.5" cy="838.5" r="5.5" fill="#2ca02c"/>
<circle cx="896.5" cy="838.5" r="10" fill="#fff"/><circle cx="896.5" cy="838.5" r="5.5" fill="#2ca02c"/>
<circle cx="900.5" cy="838.5" r="10" fill="#fff"/><circle cx="900.5" cy="838.5" r="5.5" fill="#2ca02c"/>
<circle cx="904.5" cy="838.5" r="10" fill="#fff"/><circle cx="904.5" cy="838.5" r="5.5" fill="#2ca02c"/>
<circle cx="909.5" cy="838.5" r="10" fill="#fff"/><circle cx="909.5" cy="838.5" r="5.5" fill="#2ca02c"/>
<circle cx="913.5" cy="838.5" r="10" fill="#fff"/><circle cx="913.5" cy="838.5" r="5.5" fill="#2ca02c"/>
<circle cx="917.5" cy="838.5" r="10" fill="#fff"/><circle cx="917.5" cy="838.5" r="5.5" fill="#2ca02c"/>
<circle cx="921.5" cy="838.5" r="10" fill="#fff"/><circle cx="921.5" cy="838.5" r="5.5" fill="#2ca02c"/>
<circle cx="926.5" cy="838.5" r="10" fill="#fff"/><circle cx="926.5" cy="838.5" r="5.5" fill="#2ca02c"/>
<circle cx="930.5" cy="838.5" r="10" fill="#fff"/><circle cx="930.5" cy="838.5" r="5.5" fill="#2ca02c"/>
<circle cx="934.5" cy="838.5" r="10" fill="#fff"/><circle cx="934.5" cy="838.5" r="5.5" fill="#2ca02c"/>
<circle cx="939.5" cy="838.5" r="10" fill="#fff"/><circle cx="939.5" cy="838.5" r="5.5" fill="#2ca02c"/>
<circle cx="943.5" cy="838.5" r="10" fill="#fff"/><circle cx="943.5" cy="838.5" r="5.5" fill="#2ca02c"/>
<circle cx="947.5" cy="838.5" r="10" fill="#fff"/><circle cx="947.5" cy="838.5" r="5.5" fill="#2ca02c"/>
<circle cx="951.5" cy="838.5" r="10" fill="#fff"/><circle cx="951.5" cy="838.5" r="5.5" fill="#2ca02c"/>
<circle cx="956.5" cy="838.5" r="10" fill="#fff"/><circle cx="956.5" cy="838.5" r="5.5" fill="#2ca02c"/>
</g>
<path d="M95.5 57V838.5H1166" stroke="#000" stroke-width="1" fill="none" stroke-linejoin="miter"/>
<g id="key">
<text x="1087" y="80.3" text-anchor="end" xml:space="preserve">TCP</text>
<path d="M1097.5 74.5H1145.5" stroke="#0060ad" stroke-width="2" fill="none"/>
<circle cx="1121.5" cy="74.5" r="10" fill="#fff"/><circle cx="1121.5" cy="74.5" r="5.5" fill="#0060ad"/>
<text x="1087" y="99" text-anchor="end" xml:space="preserve">UDP</text>
<path d="M1097.5 93.5H1145.5" stroke="#ff7f0e" stroke-width="2" fill="none"/>
<circle cx="1121.5" cy="93.5" r="10" fill="#fff"/><circle cx="1121.5" cy="93.5" r="5.5" fill="#ff7f0e"/>
<text x="1087" y="117.8" text-anchor="end" xml:space="preserve">IP (!TCP  !UDP)</text>
<path d="M1097.5 112.5H1145.5" stroke="#2ca02c" stroke-width="2" fill="none"/>
<circle cx="1121.5" cy="112.5" r="10" fill="#fff"/><circle cx="1121.5" cy="112.5" r="5.5" fill="#2ca02c"/>
</g>
<g id="ytics" text-anchor="end">
<text x="86.2" y="845">0</text>
<text x="86.2" y="747">200</text>
<text x="86.2" y="650">400</text>
<text x="86.2" y="552">600</text>
<text x="86.2" y="454">800</text>
<text x="86.2" y="356">1000</text>
<text x="86.2" y="259">1200</text>
<text x="86.2" y="161">1400</text>
<text x="86.2" y="63">1600</text>
</g>
<g id="xtics" text-anchor="middle">
<text x="98.4" y="864">0</text>
<text x="312.4" y="864">50</text>
<text x="526.4" y="864">100</text>
<text x="740.4" y="864">150</text>
<text x="954.4" y="864">200</text>
<text x="1168.4" y="864">250</text>
</g>
<text x="630.5" y="892" text-anchor="middle">Time (s)</text>
<text transform="translate(23.5,448.6) rotate(-90)" text-anchor="middle">Packets</text>
<text x="-22.2" y="35" xml:space="preserve">/mnt/stor0/searchlight/corpus/tiered/experiment<tspan font-size="12.8px" dy="3.8">3</tspan><tspan dy="-3.8">/eth1</tspan><tspan font-size="12.8px" dy="3.8">i</tspan><tspan dy="-3.8">nterface/exp-a-1080-html5-http1c/1648584282-c0.caubryt.tiered.pharos-exp-a-1080-html5-http1c.pcap</tspan></text>
</svg>
</body></html>
